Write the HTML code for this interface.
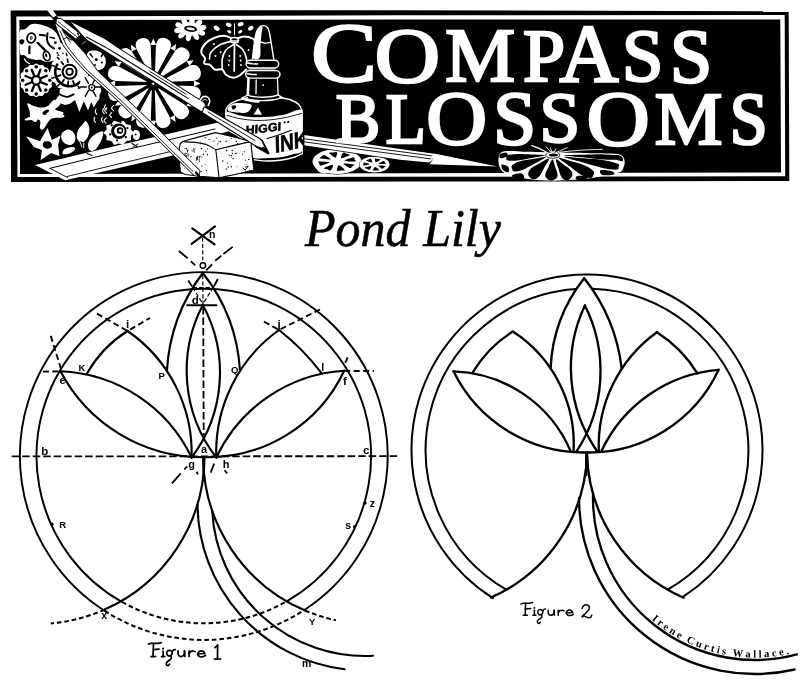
<!DOCTYPE html>
<html><head><meta charset="utf-8"><title>Compass Blossoms - Pond Lily</title>
<style>
html,body{margin:0;padding:0;background:#fff;}
body{width:800px;height:681px;overflow:hidden;font-family:"Liberation Serif",serif;}
svg{display:block;position:absolute;left:0;top:0;will-change:transform;-webkit-font-smoothing:antialiased;}
.sans{font-family:"Liberation Sans",sans-serif;}
</style></head><body>
<svg width="800" height="681" viewBox="0 0 800 681" font-family="Liberation Serif">
<rect x="0" y="0" width="800" height="681" fill="#fff"/>
<!-- BANNER -->
<g id="banner">
<path d="M10.7 10.5 L400 10.2 L788.7 11.3 L789.3 181 L400 181.6 L11 182 Z" fill="#000"/>
<path d="M16.3 16.4 L400 15.3 L784.7 14.9 L785.2 176.3 L400 176.8 L17.5 177 Z" fill="#fff"/>
<path d="M19.4 19.9 L400 19.6 L780.3 19.4 L781 172.4 L400 173.2 L20 174 Z" fill="#000"/>
<path d="M51.0 45.0 C52.2 42.8 55.8 42.5 58.0 42.5 C60.2 42.5 62.2 43.4 64.0 45.0 C65.8 46.6 67.8 49.7 68.5 52.0 C69.2 54.3 69.1 57.2 68.0 59.0 C66.9 60.8 64.2 62.1 62.0 62.5 C59.8 62.9 56.8 62.6 55.0 61.5 C53.2 60.4 51.7 58.8 51.0 56.0 C50.3 53.2 49.8 47.2 51.0 45.0 Z" fill="#fff"/>
<circle cx="59.5" cy="48.2" r="1.00" fill="#000"/>
<circle cx="63.0" cy="53.5" r="0.90" fill="#000"/>
<circle cx="57.0" cy="57.5" r="0.80" fill="#000"/>
<path d="M60.0 56.0 L62.5 59.5" fill="none" stroke="#000" stroke-width="1.00" stroke-linecap="round" stroke-linejoin="round"/>
<path d="M19.8 31.1 C20.7 28.6 23.6 30.1 25.4 29.0 C27.2 27.9 28.6 25.3 30.6 24.4 C32.5 23.5 35.0 23.7 37.2 23.9 C39.5 24.1 41.6 24.7 43.9 25.4 C46.2 26.2 49.1 27.2 51.1 28.5 C53.2 29.8 54.8 31.1 56.3 33.1 C57.7 35.2 59.0 38.4 59.9 40.8 C60.7 43.3 61.7 46.0 61.4 48.0 C61.2 50.1 59.5 51.3 58.3 53.2 C57.1 55.1 56.1 57.9 54.2 59.4 C52.3 60.8 49.2 61.8 47.0 61.9 C44.8 62.0 42.7 60.2 40.8 59.9 C39.0 59.5 37.8 60.1 35.7 59.9 C33.7 59.6 30.4 59.1 28.5 58.3 C26.6 57.6 25.8 55.9 24.4 55.2 C23.0 54.6 21.1 56.1 20.3 54.2 C19.5 52.3 19.6 47.8 19.6 43.9 C19.5 40.1 18.8 33.6 19.8 31.1 Z" fill="#fff"/>
<ellipse cx="31.3" cy="38.0" rx="5.14" ry="5.76" fill="#000" transform="rotate(15.0 31.3 38.0)"/>
<ellipse cx="31.3" cy="38.0" rx="3.29" ry="3.91" fill="#fff" transform="rotate(15.0 31.3 38.0)"/>
<ellipse cx="31.3" cy="38.0" rx="1.34" ry="1.85" fill="#000" transform="rotate(15.0 31.3 38.0)"/>
<ellipse cx="31.3" cy="38.0" rx="0.51" ry="0.82" fill="#fff" transform="rotate(15.0 31.3 38.0)"/>
<path d="M19.3 40.8 C19.5 40.0 21.5 39.3 22.3 39.3 C23.2 39.3 24.2 40.2 24.4 40.8 C24.6 41.5 24.0 42.8 23.4 43.4 C22.8 44.0 21.5 44.9 20.8 44.4 C20.1 44.0 19.0 41.7 19.3 40.8 Z" fill="#000"/>
<path d="M37.8 42.9 L40.8 46.0 L45.5 50.6" fill="none" stroke="#000" stroke-width="2.40" stroke-linecap="round" stroke-linejoin="round"/>
<path d="M29.5 46.5 L29.3 53.2" fill="none" stroke="#000" stroke-width="2.20" stroke-linecap="round" stroke-linejoin="round"/>
<path d="M39.8 34.7 L45.0 35.5" fill="none" stroke="#000" stroke-width="2.00" stroke-linecap="round" stroke-linejoin="round"/>
<path d="M47.53 33.14 C47.45 34.25 46.68 37.76 47.02 39.82 C47.36 41.88 48.39 44.02 49.59 45.48 C50.79 46.93 53.44 48.05 54.22 48.56 " fill="none" stroke="#000" stroke-width="2.00" stroke-linecap="round" stroke-linejoin="round"/>
<path d="M50.1 37.2 L54.2 38.3" fill="none" stroke="#000" stroke-width="1.60" stroke-linecap="round" stroke-linejoin="round"/>
<circle cx="55.4" cy="42.7" r="1.34" fill="#000"/>
<circle cx="59.6" cy="48.3" r="1.34" fill="#000"/>
<circle cx="57.5" cy="53.0" r="0.93" fill="#000"/>
<ellipse cx="46.7" cy="56.0" rx="4.11" ry="5.66" fill="#000" transform="rotate(-15.0 46.7 56.0)"/>
<ellipse cx="46.7" cy="56.0" rx="2.47" ry="3.91" fill="#fff" transform="rotate(-15.0 46.7 56.0)"/>
<ellipse cx="46.2" cy="55.2" rx="1.03" ry="2.06" fill="#000" transform="rotate(-15.0 46.2 55.2)"/>
<path d="M24.40 58.84 C24.74 59.36 25.60 61.16 26.45 61.93 C27.31 62.70 29.02 63.21 29.54 63.47 " fill="none" stroke="#fff" stroke-width="1.20" stroke-linecap="round" stroke-linejoin="round"/>
<path d="M51.13 60.39 C51.82 60.47 54.04 61.24 55.24 60.90 C56.44 60.56 57.81 58.76 58.33 58.33 " fill="none" stroke="#fff" stroke-width="1.20" stroke-linecap="round" stroke-linejoin="round"/>
<path d="M58.33 55.24 C58.84 55.76 60.21 58.33 61.41 58.33 C62.61 58.33 64.84 55.76 65.53 55.24 " fill="none" stroke="#000" stroke-width="2.00" stroke-linecap="round" stroke-linejoin="round"/>
<path d="M53.0 80.3 C53.0 81.4 51.8 82.3 51.6 83.4 C51.3 84.5 52.1 85.8 51.7 86.7 C51.3 87.7 49.8 88.1 49.2 89.0 C48.6 89.9 48.8 91.5 48.1 92.2 C47.4 92.9 45.8 92.7 44.9 93.3 C44.0 93.9 43.6 95.4 42.6 95.8 C41.7 96.2 40.3 95.5 39.3 95.7 C38.2 95.9 37.2 97.1 36.2 97.1 C35.2 97.1 34.2 95.9 33.2 95.7 C32.1 95.5 30.7 96.2 29.8 95.8 C28.9 95.4 28.4 93.9 27.5 93.3 C26.6 92.7 25.1 92.9 24.4 92.2 C23.7 91.5 23.8 89.9 23.2 89.0 C22.6 88.1 21.1 87.7 20.7 86.7 C20.3 85.8 21.1 84.5 20.9 83.4 C20.7 82.3 19.5 81.4 19.5 80.3 C19.5 79.3 20.7 78.4 20.9 77.3 C21.1 76.2 20.3 74.9 20.7 73.9 C21.1 73.0 22.6 72.6 23.2 71.7 C23.8 70.7 23.7 69.2 24.4 68.5 C25.1 67.8 26.6 67.9 27.5 67.3 C28.4 66.7 28.9 65.2 29.8 64.8 C30.7 64.5 32.1 65.2 33.2 65.0 C34.2 64.8 35.2 63.6 36.2 63.6 C37.2 63.6 38.2 64.8 39.3 65.0 C40.3 65.2 41.7 64.5 42.6 64.8 C43.6 65.2 44.0 66.7 44.9 67.3 C45.8 67.9 47.4 67.8 48.1 68.5 C48.8 69.2 48.6 70.7 49.2 71.7 C49.8 72.6 51.3 73.0 51.7 73.9 C52.1 74.9 51.3 76.2 51.6 77.3 C51.8 78.4 53.0 79.3 53.0 80.3 Z" fill="#fff"/>
<path d="M39.6 81.7 L46.9 84.6" fill="none" stroke="#000" stroke-width="2.30" stroke-linecap="round" stroke-linejoin="round"/>
<circle cx="49.8" cy="80.3" r="1.75" fill="#000"/>
<path d="M37.6 83.6 L40.7 90.9" fill="none" stroke="#000" stroke-width="2.30" stroke-linecap="round" stroke-linejoin="round"/>
<circle cx="45.8" cy="89.9" r="1.75" fill="#000"/>
<path d="M34.9 83.7 L31.9 91.0" fill="none" stroke="#000" stroke-width="2.30" stroke-linecap="round" stroke-linejoin="round"/>
<circle cx="36.2" cy="93.9" r="1.75" fill="#000"/>
<path d="M32.9 81.7 L25.6 84.8" fill="none" stroke="#000" stroke-width="2.30" stroke-linecap="round" stroke-linejoin="round"/>
<circle cx="26.6" cy="89.9" r="1.75" fill="#000"/>
<path d="M32.9 79.0 L25.5 76.0" fill="none" stroke="#000" stroke-width="2.30" stroke-linecap="round" stroke-linejoin="round"/>
<circle cx="22.6" cy="80.3" r="1.75" fill="#000"/>
<path d="M34.8 77.0 L31.7 69.7" fill="none" stroke="#000" stroke-width="2.30" stroke-linecap="round" stroke-linejoin="round"/>
<circle cx="26.6" cy="70.7" r="1.75" fill="#000"/>
<path d="M37.6 77.0 L40.5 69.7" fill="none" stroke="#000" stroke-width="2.30" stroke-linecap="round" stroke-linejoin="round"/>
<circle cx="36.2" cy="66.8" r="1.75" fill="#000"/>
<path d="M39.5 78.9 L46.8 75.8" fill="none" stroke="#000" stroke-width="2.30" stroke-linecap="round" stroke-linejoin="round"/>
<circle cx="45.8" cy="70.7" r="1.75" fill="#000"/>
<circle cx="36.2" cy="80.3" r="5.35" fill="#000"/>
<circle cx="36.2" cy="80.3" r="3.08" fill="#fff"/>
<path d="M27.5 104.4 C28.0 103.6 35.6 108.2 38.8 108.8 C41.9 109.3 43.8 109.0 46.2 107.5 C48.8 106.0 51.9 100.9 53.8 100.0 C55.6 99.1 57.3 100.2 57.5 101.9 C57.7 103.5 54.0 107.8 55.0 110.0 C56.0 112.2 62.5 113.8 63.8 115.0 C65.0 116.2 64.6 116.9 62.5 117.5 C60.4 118.1 54.4 116.9 51.2 118.8 C48.1 120.6 45.6 127.2 43.8 128.8 C41.9 130.3 40.7 129.6 40.0 128.1 C39.3 126.7 41.7 121.2 39.4 120.0 C37.1 118.8 28.5 120.8 26.2 120.6 C24.0 120.4 24.1 120.0 25.6 118.8 C27.2 117.5 35.3 115.5 35.6 113.1 C35.9 110.7 27.0 105.1 27.5 104.4 Z" fill="#fff"/>
<ellipse cx="45.6" cy="112.5" rx="3.25" ry="2.12" fill="#000" transform="rotate(-20.0 45.6 112.5)"/>
<polygon points="26.2,136.2 40.0,141.2 47.5,128.1 51.9,140.0 60.6,135.6 58.1,145.0 59.4,156.2 51.2,153.1 40.6,160.0 41.9,150.0 33.8,146.9" fill="#fff"/>
<path d="M43.8 141.9 C44.9 141.1 48.6 141.1 50.0 141.9 C51.4 142.6 52.3 145.1 51.9 146.2 C51.5 147.4 49.0 148.8 47.5 148.8 C46.0 148.8 43.8 147.4 43.1 146.2 C42.5 145.1 42.6 142.6 43.8 141.9 Z" fill="#000"/>
<path d="M62.5 132.5 C63.8 131.1 66.8 129.2 68.8 129.4 C70.7 129.6 73.3 131.8 74.4 133.8 C75.4 135.7 75.7 139.4 75.0 141.2 C74.3 143.1 71.9 144.8 70.0 145.0 C68.1 145.2 65.2 143.8 63.8 142.5 C62.3 141.2 61.5 139.2 61.2 137.5 C61.0 135.8 61.2 133.9 62.5 132.5 Z" fill="#fff"/>
<path d="M86.2 121.2 C87.4 122.0 89.2 126.0 89.4 128.8 C89.6 131.5 88.9 135.1 87.5 137.5 C86.1 139.9 83.0 143.1 81.2 143.1 C79.5 143.1 77.4 139.7 76.9 137.5 C76.4 135.3 77.2 132.2 78.1 130.0 C79.1 127.8 81.1 125.8 82.5 124.4 C83.9 122.9 85.1 120.5 86.2 121.2 Z" fill="#fff"/>
<path d="M102.5 131.2 C104.1 131.7 102.9 135.8 101.9 138.8 C100.8 141.7 98.2 146.8 96.2 148.8 C94.3 150.7 91.4 151.5 90.0 150.6 C88.6 149.8 87.7 146.1 88.1 143.8 C88.5 141.4 90.1 138.3 92.5 136.2 C94.9 134.2 100.9 130.8 102.5 131.2 Z" fill="#fff"/>
<path d="M65.0 148.8 C66.7 147.6 70.8 146.8 72.5 146.9 C74.2 147.0 75.6 148.2 75.0 149.4 C74.4 150.5 70.8 153.0 68.8 153.8 C66.7 154.5 63.1 154.6 62.5 153.8 C61.9 152.9 63.3 149.9 65.0 148.8 Z" fill="#fff"/>
<path d="M75.0 146.2 C75.3 144.7 78.3 141.7 80.0 141.2 C81.7 140.8 83.9 142.5 85.0 143.8 C86.1 145.0 87.2 147.4 86.9 148.8 C86.6 150.1 84.6 151.6 83.1 151.9 C81.7 152.2 79.5 151.6 78.1 150.6 C76.8 149.7 74.7 147.8 75.0 146.2 Z" fill="#000"/>
<path d="M80.0 141.9 L81.9 146.9" fill="none" stroke="#fff" stroke-width="1.00" stroke-linecap="round" stroke-linejoin="round"/>
<path d="M83.8 143.1 L83.8 147.5" fill="none" stroke="#fff" stroke-width="1.00" stroke-linecap="round" stroke-linejoin="round"/>
<polygon points="58.1,102.5 60.0,88.8 100.0,88.8 99.4,98.8 97.5,101.2 93.8,107.5 91.2,101.9 88.1,110.6 83.8,101.2 79.4,111.9 75.0,100.0 70.0,103.8 65.0,105.0" fill="#fff"/>
<path d="M96.00 109.12 C95.88 109.58 95.10 111.00 95.25 111.88 C95.40 112.75 96.60 113.96 96.88 114.38 " fill="none" stroke="#fff" stroke-width="1.10" stroke-linecap="round" stroke-linejoin="round"/>
<path d="M103.50 108.50 C103.38 108.96 102.60 110.38 102.75 111.25 C102.90 112.12 104.10 113.33 104.38 113.75 " fill="none" stroke="#fff" stroke-width="1.10" stroke-linecap="round" stroke-linejoin="round"/>
<path d="M94.75 117.25 C94.62 117.71 93.85 119.12 94.00 120.00 C94.15 120.88 95.35 122.08 95.62 122.50 " fill="none" stroke="#fff" stroke-width="1.10" stroke-linecap="round" stroke-linejoin="round"/>
<path d="M102.25 117.25 C102.12 117.71 101.35 119.12 101.50 120.00 C101.65 120.88 102.85 122.08 103.12 122.50 " fill="none" stroke="#fff" stroke-width="1.10" stroke-linecap="round" stroke-linejoin="round"/>
<path d="M105.38 104.75 C105.25 105.21 104.48 106.62 104.62 107.50 C104.77 108.38 105.98 109.58 106.25 110.00 " fill="none" stroke="#fff" stroke-width="1.10" stroke-linecap="round" stroke-linejoin="round"/>
<path d="M27.5 103.5 C28.2 102.7 31.4 105.4 33.7 106.0 C35.9 106.7 38.4 107.6 40.8 107.6 C43.2 107.6 45.8 106.9 48.0 106.0 C50.3 105.2 52.5 104.1 54.2 102.4 C55.9 100.8 57.1 96.8 58.3 96.3 C59.5 95.8 61.2 97.8 61.4 99.4 C61.6 100.9 60.4 103.8 59.4 105.5 C58.3 107.2 54.6 108.4 55.2 109.6 C55.9 110.8 63.0 111.5 63.5 112.7 C64.0 113.9 60.7 116.3 58.3 116.8 C55.9 117.4 51.5 116.7 49.1 115.8 C46.7 115.0 45.5 111.7 43.9 111.7 C42.4 111.7 41.2 114.1 39.8 115.8 C38.4 117.5 37.2 121.6 35.7 122.0 C34.2 122.3 31.6 119.8 30.6 117.9 C29.5 116.0 30.1 113.1 29.5 110.7 C29.0 108.3 26.8 104.2 27.5 103.5 Z" fill="#fff"/>
<ellipse cx="46.0" cy="111.7" rx="3.29" ry="1.65" fill="#000" transform="rotate(-25.0 46.0 111.7)"/>
<path d="M89.4 71.8 C89.4 73.2 88.0 74.5 87.7 75.9 C87.4 77.3 88.0 79.1 87.4 80.4 C86.8 81.6 85.0 82.2 84.1 83.3 C83.2 84.5 83.0 86.4 81.9 87.2 C80.9 88.1 79.0 87.8 77.7 88.5 C76.4 89.1 75.4 90.7 74.0 91.0 C72.7 91.4 71.1 90.3 69.6 90.3 C68.2 90.3 66.6 91.4 65.2 91.0 C63.9 90.7 62.9 89.1 61.6 88.5 C60.3 87.8 58.4 88.1 57.3 87.2 C56.3 86.4 56.1 84.5 55.2 83.3 C54.3 82.2 52.4 81.6 51.9 80.4 C51.3 79.1 51.9 77.3 51.6 75.9 C51.3 74.5 49.9 73.2 49.9 71.8 C49.9 70.4 51.3 69.1 51.6 67.7 C51.9 66.3 51.3 64.5 51.9 63.2 C52.4 62.0 54.3 61.4 55.2 60.3 C56.1 59.1 56.3 57.2 57.3 56.4 C58.4 55.5 60.3 55.8 61.6 55.1 C62.9 54.5 63.9 52.9 65.2 52.6 C66.6 52.2 68.2 53.3 69.6 53.3 C71.1 53.3 72.7 52.2 74.0 52.6 C75.4 52.9 76.4 54.5 77.7 55.1 C79.0 55.8 80.9 55.5 81.9 56.4 C83.0 57.2 83.2 59.1 84.1 60.3 C85.0 61.4 86.8 62.0 87.4 63.2 C88.0 64.5 87.4 66.3 87.7 67.7 C88.0 69.1 89.4 70.4 89.4 71.8 Z" fill="#fff"/>
<path d="M57.17 64.60 C56.93 65.18 56.06 66.87 55.73 68.07 C55.41 69.27 55.24 70.56 55.24 71.80 C55.24 73.04 55.41 74.33 55.73 75.53 C56.06 76.73 56.55 77.92 57.17 79.00 C57.79 80.07 58.58 81.10 59.46 81.98 C60.34 82.86 61.37 83.65 62.44 84.27 C63.52 84.89 64.71 85.38 65.91 85.70 C67.11 86.03 68.40 86.20 69.64 86.20 C70.88 86.20 72.17 86.03 73.37 85.70 C74.57 85.38 75.76 84.89 76.84 84.27 C77.91 83.65 79.32 82.36 79.82 81.98 " fill="none" stroke="#000" stroke-width="2.60" stroke-linecap="round" stroke-linejoin="round"/>
<path d="M67.9 62.2 L67.4 59.1" fill="none" stroke="#000" stroke-width="1.80" stroke-linecap="round" stroke-linejoin="round"/>
<path d="M63.4 64.3 L61.4 62.0" fill="none" stroke="#000" stroke-width="1.80" stroke-linecap="round" stroke-linejoin="round"/>
<path d="M60.2 69.3 L57.2 68.5" fill="none" stroke="#000" stroke-width="1.80" stroke-linecap="round" stroke-linejoin="round"/>
<path d="M60.5 75.1 L57.6 76.2" fill="none" stroke="#000" stroke-width="1.80" stroke-linecap="round" stroke-linejoin="round"/>
<path d="M64.0 79.8 L62.3 82.3" fill="none" stroke="#000" stroke-width="1.80" stroke-linecap="round" stroke-linejoin="round"/>
<path d="M68.3 81.5 L67.9 84.5" fill="none" stroke="#000" stroke-width="1.80" stroke-linecap="round" stroke-linejoin="round"/>
<path d="M73.0 81.0 L74.0 83.9" fill="none" stroke="#000" stroke-width="1.80" stroke-linecap="round" stroke-linejoin="round"/>
<path d="M82.2 61.2 L84.0 59.8" fill="none" stroke="#000" stroke-width="1.50" stroke-linecap="round" stroke-linejoin="round"/>
<path d="M75.3 56.3 L76.0 54.2" fill="none" stroke="#000" stroke-width="1.50" stroke-linecap="round" stroke-linejoin="round"/>
<path d="M66.8 55.6 L66.4 53.4" fill="none" stroke="#000" stroke-width="1.50" stroke-linecap="round" stroke-linejoin="round"/>
<path d="M59.1 59.2 L57.6 57.5" fill="none" stroke="#000" stroke-width="1.50" stroke-linecap="round" stroke-linejoin="round"/>
<path d="M54.2 66.2 L52.1 65.4" fill="none" stroke="#000" stroke-width="1.50" stroke-linecap="round" stroke-linejoin="round"/>
<path d="M54.2 77.4 L52.1 78.2" fill="none" stroke="#000" stroke-width="1.50" stroke-linecap="round" stroke-linejoin="round"/>
<path d="M59.1 84.4 L57.6 86.1" fill="none" stroke="#000" stroke-width="1.50" stroke-linecap="round" stroke-linejoin="round"/>
<path d="M77.9 86.0 L79.0 88.0" fill="none" stroke="#000" stroke-width="1.50" stroke-linecap="round" stroke-linejoin="round"/>
<path d="M83.9 80.0 L85.8 81.2" fill="none" stroke="#000" stroke-width="1.50" stroke-linecap="round" stroke-linejoin="round"/>
<path d="M85.8 68.9 L88.1 68.5" fill="none" stroke="#000" stroke-width="1.50" stroke-linecap="round" stroke-linejoin="round"/>
<circle cx="69.6" cy="71.8" r="8.02" fill="#000"/>
<circle cx="69.6" cy="71.8" r="5.96" fill="#fff"/>
<circle cx="69.6" cy="71.8" r="4.11" fill="#000"/>
<circle cx="69.6" cy="71.8" r="2.26" fill="#fff"/>
<path d="M54.22 84.96 C54.56 85.99 55.07 89.42 56.27 91.13 C57.47 92.84 59.53 94.30 61.41 95.24 C63.30 96.19 65.53 96.96 67.58 96.79 C69.64 96.62 72.72 94.64 73.75 94.22 " fill="none" stroke="#000" stroke-width="1.80" stroke-linecap="round" stroke-linejoin="round"/>
<path d="M87.5 53.1 C88.5 51.6 90.4 50.8 92.5 50.6 C94.6 50.4 97.9 50.7 100.0 51.9 C102.1 53.0 104.1 55.5 105.0 57.5 C105.9 59.5 106.0 61.9 105.6 63.8 C105.2 65.6 104.1 67.7 102.5 68.8 C100.9 69.8 98.3 70.3 96.2 70.0 C94.2 69.7 91.7 68.5 90.0 66.9 C88.3 65.2 86.7 62.3 86.2 60.0 C85.8 57.7 86.5 54.7 87.5 53.1 Z" fill="#fff"/>
<circle cx="96.2" cy="59.4" r="1.50" fill="#000"/>
<circle cx="101.9" cy="62.5" r="1.12" fill="#000"/>
<circle cx="95.0" cy="65.0" r="1.00" fill="#000"/>
<path d="M90.0 53.8 L92.5 56.9" fill="none" stroke="#000" stroke-width="1.50" stroke-linecap="round" stroke-linejoin="round"/>
<path d="M103.1 53.8 L101.2 56.5" fill="none" stroke="#000" stroke-width="1.50" stroke-linecap="round" stroke-linejoin="round"/>
<circle cx="90.6" cy="80.0" r="4.60" fill="#fff"/>
<circle cx="84.5" cy="83.5" r="4.60" fill="#fff"/>
<circle cx="84.5" cy="90.5" r="4.60" fill="#fff"/>
<circle cx="90.6" cy="94.0" r="4.60" fill="#fff"/>
<circle cx="96.7" cy="90.5" r="4.60" fill="#fff"/>
<circle cx="96.7" cy="83.5" r="4.60" fill="#fff"/>
<circle cx="90.6" cy="87.0" r="6.00" fill="#fff"/>
<path d="M92.7 83.4 L96.0 77.6" fill="none" stroke="#000" stroke-width="1.30" stroke-linecap="round" stroke-linejoin="round"/>
<path d="M88.5 83.4 L85.2 77.6" fill="none" stroke="#000" stroke-width="1.30" stroke-linecap="round" stroke-linejoin="round"/>
<path d="M86.4 87.0 L79.8 87.0" fill="none" stroke="#000" stroke-width="1.30" stroke-linecap="round" stroke-linejoin="round"/>
<path d="M88.5 90.6 L85.2 96.4" fill="none" stroke="#000" stroke-width="1.30" stroke-linecap="round" stroke-linejoin="round"/>
<path d="M92.7 90.6 L96.0 96.4" fill="none" stroke="#000" stroke-width="1.30" stroke-linecap="round" stroke-linejoin="round"/>
<path d="M94.8 87.0 L101.4 87.0" fill="none" stroke="#000" stroke-width="1.30" stroke-linecap="round" stroke-linejoin="round"/>
<circle cx="91.8" cy="87.6" r="3.60" fill="#000"/>
<circle cx="91.8" cy="87.6" r="2.30" fill="#fff"/>
<circle cx="91.8" cy="87.6" r="1.00" fill="#000"/>
<path d="M133.8 132.8 C133.8 133.8 131.4 134.8 130.9 136.0 C130.4 137.3 131.7 139.2 130.9 140.1 C130.1 141.0 127.5 140.6 126.2 141.3 C125.0 142.1 124.6 144.3 123.4 144.7 C122.2 145.0 120.3 143.4 118.8 143.4 C117.2 143.4 115.3 145.0 114.1 144.7 C112.9 144.3 112.5 142.1 111.3 141.3 C110.0 140.6 107.4 141.0 106.6 140.1 C105.8 139.2 107.1 137.3 106.6 136.0 C106.1 134.8 103.7 133.8 103.7 132.8 C103.7 131.7 106.1 130.7 106.6 129.5 C107.1 128.2 105.8 126.3 106.6 125.4 C107.4 124.5 110.0 124.9 111.3 124.2 C112.5 123.4 112.9 121.2 114.1 120.8 C115.3 120.5 117.2 122.1 118.8 122.1 C120.3 122.1 122.2 120.5 123.4 120.8 C124.6 121.2 125.0 123.4 126.2 124.2 C127.5 124.9 130.1 124.5 130.9 125.4 C131.7 126.3 130.4 128.2 130.9 129.5 C131.4 130.7 133.8 131.7 133.8 132.8 Z" fill="#fff"/>
<circle cx="118.8" cy="131.2" r="7.75" fill="#000"/>
<circle cx="119.4" cy="131.0" r="5.25" fill="#fff"/>
<circle cx="120.0" cy="130.6" r="3.25" fill="#000"/>
<circle cx="120.4" cy="130.4" r="1.50" fill="#fff"/>
<circle cx="127.4" cy="128.1" r="1.12" fill="#000"/>
<circle cx="120.4" cy="122.1" r="1.12" fill="#000"/>
<circle cx="111.7" cy="125.3" r="1.12" fill="#000"/>
<circle cx="110.1" cy="134.4" r="1.12" fill="#000"/>
<circle cx="117.1" cy="140.4" r="1.12" fill="#000"/>
<circle cx="125.8" cy="137.2" r="1.12" fill="#000"/>
<path d="M133.8 130.6 C134.7 129.6 137.7 130.3 138.8 131.2 C139.8 132.2 140.3 134.8 140.0 136.2 C139.7 137.7 138.0 139.8 136.9 140.0 C135.7 140.2 133.6 139.1 133.1 137.5 C132.6 135.9 132.8 131.7 133.8 130.6 Z" fill="#fff"/>
<circle cx="135.6" cy="134.4" r="1.00" fill="#000"/>
<path d="M106.88 107.88 C106.50 108.33 104.67 109.75 104.62 110.62 C104.58 111.50 106.29 112.71 106.62 113.12 " fill="none" stroke="#fff" stroke-width="1.10" stroke-linecap="round" stroke-linejoin="round"/>
<path d="M111.88 112.25 C111.50 112.71 109.67 114.12 109.62 115.00 C109.58 115.88 111.29 117.08 111.62 117.50 " fill="none" stroke="#fff" stroke-width="1.10" stroke-linecap="round" stroke-linejoin="round"/>
<path d="M106.25 117.88 C105.88 118.33 104.04 119.75 104.00 120.62 C103.96 121.50 105.67 122.71 106.00 123.12 " fill="none" stroke="#fff" stroke-width="1.10" stroke-linecap="round" stroke-linejoin="round"/>
<path d="M113.75 105.38 C113.38 105.83 111.54 107.25 111.50 108.12 C111.46 109.00 113.17 110.21 113.50 110.62 " fill="none" stroke="#fff" stroke-width="1.10" stroke-linecap="round" stroke-linejoin="round"/>
<polygon points="200.5,83.5 194.0,86.4 194.0,80.6" fill="#fff"/>
<polygon points="193.7,60.2 189.5,66.0 186.6,60.9" fill="#fff"/>
<polygon points="176.1,44.1 175.3,51.2 170.3,48.3" fill="#fff"/>
<polygon points="153.3,38.5 156.2,45.0 150.4,45.0" fill="#fff"/>
<polygon points="130.8,44.6 136.6,48.8 131.6,51.7" fill="#fff"/>
<polygon points="114.5,61.1 121.6,61.9 118.7,66.9" fill="#fff"/>
<polygon points="108.6,83.5 115.1,80.6 115.1,86.4" fill="#fff"/>
<polygon points="114.8,105.7 119.0,100.0 121.9,105.0" fill="#fff"/>
<polygon points="131.3,121.6 132.1,114.5 137.1,117.4" fill="#fff"/>
<polygon points="153.3,127.2 150.4,120.7 156.2,120.7" fill="#fff"/>
<polygon points="175.6,122.0 169.8,117.9 174.8,115.0" fill="#fff"/>
<polygon points="193.4,106.6 186.3,105.9 189.2,100.9" fill="#fff"/>
<path d="M160.0 81.4 L188.2 66.4 C194.1 63.5 198.9 65.0 200.5 70.9 C202.0 76.7 198.6 80.4 192.0 80.9 L160.1 82.0 Z" fill="#fff"/>
<path d="M158.0 78.3 L174.5 51.9 C178.1 46.6 183.0 45.5 187.1 49.7 C191.3 53.8 190.2 58.7 184.9 62.3 L158.5 78.8 Z" fill="#fff"/>
<path d="M154.8 76.7 L155.9 46.3 C156.4 40.0 159.9 36.7 165.4 38.2 C171.0 39.6 172.4 44.3 169.7 50.0 L155.4 76.8 Z" fill="#fff"/>
<path d="M151.2 76.8 L137.0 50.1 C134.3 44.4 135.7 39.8 141.2 38.3 C146.7 36.8 150.3 40.1 150.7 46.4 L151.8 76.7 Z" fill="#fff"/>
<path d="M148.1 78.8 L122.5 62.8 C117.4 59.2 116.3 54.5 120.3 50.5 C124.3 46.5 129.0 47.6 132.6 52.7 L148.6 78.3 Z" fill="#fff"/>
<path d="M146.5 82.0 L116.4 80.9 C110.2 80.5 106.9 76.9 108.4 71.5 C109.8 66.0 114.4 64.6 120.1 67.3 L146.6 81.4 Z" fill="#fff"/>
<path d="M146.6 85.6 L120.1 99.7 C114.5 102.4 109.9 101.0 108.5 95.5 C107.0 90.1 110.3 86.5 116.5 86.1 L146.5 85.0 Z" fill="#fff"/>
<path d="M148.6 88.7 L132.9 113.8 C129.4 118.9 124.7 120.0 120.8 116.0 C116.8 112.1 117.9 107.4 123.0 103.9 L148.1 88.2 Z" fill="#fff"/>
<path d="M151.8 90.3 L150.8 119.6 C150.3 125.7 146.8 128.9 141.5 127.5 C136.2 126.1 134.8 121.6 137.4 116.0 L151.2 90.2 Z" fill="#fff"/>
<path d="M155.4 90.2 L169.2 116.1 C171.9 121.7 170.5 126.2 165.1 127.7 C159.8 129.1 156.3 125.9 155.8 119.7 L154.8 90.3 Z" fill="#fff"/>
<path d="M158.5 88.2 L184.4 104.4 C189.6 108.0 190.7 112.8 186.6 116.8 C182.6 120.9 177.8 119.8 174.2 114.6 L158.0 88.7 Z" fill="#fff"/>
<path d="M160.1 85.0 L192.0 86.1 C198.5 86.6 201.9 90.3 200.4 96.1 C198.8 101.9 194.0 103.4 188.1 100.6 L160.0 85.6 Z" fill="#fff"/>
<ellipse cx="201.9" cy="27.7" rx="4.50" ry="2.75" fill="#fff" transform="rotate(-10.0 201.9 27.7)"/>
<ellipse cx="198.5" cy="23.4" rx="4.50" ry="2.75" fill="#fff" transform="rotate(-46.0 198.5 23.4)"/>
<ellipse cx="191.9" cy="21.3" rx="4.50" ry="2.75" fill="#fff" transform="rotate(-82.0 191.9 21.3)"/>
<ellipse cx="184.7" cy="22.2" rx="4.50" ry="2.75" fill="#fff" transform="rotate(-118.0 184.7 22.2)"/>
<ellipse cx="179.6" cy="25.6" rx="4.50" ry="2.75" fill="#fff" transform="rotate(-154.0 179.6 25.6)"/>
<ellipse cx="178.6" cy="30.3" rx="4.50" ry="2.75" fill="#fff" transform="rotate(-190.0 178.6 30.3)"/>
<ellipse cx="182.0" cy="34.6" rx="4.50" ry="2.75" fill="#fff" transform="rotate(-226.0 182.0 34.6)"/>
<ellipse cx="188.6" cy="36.7" rx="4.50" ry="2.75" fill="#fff" transform="rotate(-262.0 188.6 36.7)"/>
<ellipse cx="195.8" cy="35.8" rx="4.50" ry="2.75" fill="#fff" transform="rotate(-298.0 195.8 35.8)"/>
<ellipse cx="200.9" cy="32.4" rx="4.50" ry="2.75" fill="#fff" transform="rotate(-334.0 200.9 32.4)"/>
<ellipse cx="190.2" cy="29.0" rx="10.62" ry="6.88" fill="#fff"/>
<ellipse cx="190.6" cy="28.8" rx="6.50" ry="3.00" fill="#000" transform="rotate(8.0 190.6 28.8)"/>
<ellipse cx="190.6" cy="28.8" rx="4.25" ry="1.25" fill="#fff" transform="rotate(8.0 190.6 28.8)"/>
<ellipse cx="216.7" cy="28.2" rx="3.30" ry="2.10" fill="#fff" transform="rotate(35.0 216.7 28.2)"/>
<ellipse cx="228.7" cy="24.8" rx="3.00" ry="1.95" fill="#fff" transform="rotate(20.0 228.7 24.8)"/>
<ellipse cx="240.7" cy="24.2" rx="3.00" ry="1.95" fill="#fff" transform="rotate(-20.0 240.7 24.2)"/>
<ellipse cx="250.7" cy="28.2" rx="3.00" ry="1.95" fill="#fff" transform="rotate(-30.0 250.7 28.2)"/>
<ellipse cx="229.3" cy="31.7" rx="2.25" ry="1.50" fill="#fff" transform="rotate(30.0 229.3 31.7)"/>
<ellipse cx="240.2" cy="31.7" rx="2.25" ry="1.50" fill="#fff" transform="rotate(-30.0 240.2 31.7)"/>
<path d="M234.5 23.7 L234.5 35.0" fill="none" stroke="#fff" stroke-width="1.00" stroke-linecap="round" stroke-linejoin="round"/>
<path d="M232.75 38.75 C231.37 38.25 227.62 35.87 224.50 35.75 C221.37 35.62 217.25 36.62 214.00 38.00 C210.75 39.37 207.12 41.62 205.00 44.00 C202.87 46.37 201.25 49.87 201.25 52.25 C201.25 54.62 204.50 56.37 205.00 58.25 C205.50 60.12 203.37 62.37 204.25 63.50 C205.12 64.62 208.50 64.00 210.25 65.00 C212.00 66.00 212.75 68.75 214.75 69.50 C216.75 70.25 220.37 68.62 222.25 69.50 C224.12 70.37 224.12 73.37 226.00 74.75 C227.87 76.12 231.25 77.62 233.50 77.75 C235.75 77.87 237.37 76.87 239.50 75.50 C241.62 74.12 245.12 70.50 246.25 69.50 " fill="none" stroke="#fff" stroke-width="2.00" stroke-linecap="round" stroke-linejoin="round"/>
<path d="M236.50 38.75 C237.75 38.37 241.25 36.50 244.00 36.50 C246.75 36.50 251.00 37.50 253.00 38.75 C255.00 40.00 255.50 43.12 256.00 44.00 " fill="none" stroke="#fff" stroke-width="2.00" stroke-linecap="round" stroke-linejoin="round"/>
<path d="M232.75 41.00 C230.62 41.62 223.62 42.87 220.00 44.75 C216.37 46.62 212.75 49.87 211.00 52.25 C209.25 54.62 209.75 57.87 209.50 59.00 " fill="none" stroke="#fff" stroke-width="1.60" stroke-linecap="round" stroke-linejoin="round"/>
<path d="M233.50 44.75 C232.25 45.62 227.87 47.62 226.00 50.00 C224.12 52.37 222.87 55.87 222.25 59.00 C221.62 62.12 222.25 67.12 222.25 68.75 " fill="none" stroke="#fff" stroke-width="1.60" stroke-linecap="round" stroke-linejoin="round"/>
<path d="M236.50 44.75 C237.50 45.50 240.87 47.12 242.50 49.25 C244.12 51.37 245.55 54.87 246.25 57.50 C246.95 60.12 246.62 63.75 246.70 65.00 " fill="none" stroke="#fff" stroke-width="1.60" stroke-linecap="round" stroke-linejoin="round"/>
<path d="M234.5 44.0 L234.2 71.0" fill="none" stroke="#fff" stroke-width="1.80" stroke-linecap="round" stroke-linejoin="round"/>
<ellipse cx="234.5" cy="40.2" rx="3.90" ry="2.70" fill="#000" stroke="#fff" stroke-width="1.60"/>
<path d="M231.2 41.0 L238.0 41.0" fill="none" stroke="#fff" stroke-width="1.60" stroke-linecap="round" stroke-linejoin="round"/>
<circle cx="214.0" cy="44.0" r="0.97" fill="#fff"/>
<circle cx="220.7" cy="52.2" r="0.97" fill="#fff"/>
<circle cx="215.5" cy="56.0" r="0.97" fill="#fff"/>
<circle cx="229.3" cy="56.0" r="0.97" fill="#fff"/>
<circle cx="229.3" cy="60.5" r="0.97" fill="#fff"/>
<circle cx="228.7" cy="65.0" r="0.97" fill="#fff"/>
<circle cx="240.2" cy="56.0" r="0.97" fill="#fff"/>
<circle cx="240.7" cy="60.5" r="0.97" fill="#fff"/>
<circle cx="241.0" cy="65.0" r="0.97" fill="#fff"/>
<circle cx="248.5" cy="50.0" r="0.97" fill="#fff"/>
<path d="M252.50 59.00 C252.75 56.67 253.33 49.52 254.00 45.00 C254.67 40.48 255.50 34.90 256.50 31.88 C257.50 28.85 258.79 27.92 260.00 26.88 C261.21 25.83 262.50 25.52 263.75 25.62 C265.00 25.73 266.56 26.35 267.50 27.50 C268.44 28.65 268.71 29.58 269.38 32.50 C270.04 35.42 270.77 40.58 271.50 45.00 C272.23 49.42 273.38 56.67 273.75 59.00 " fill="none" stroke="#fff" stroke-width="1.45" stroke-linecap="round" stroke-linejoin="round"/>
<path d="M256.5 31.9 C257.4 29.0 258.4 28.5 259.4 27.8 C260.4 27.0 262.1 26.2 262.5 27.2 C262.9 28.2 261.8 30.8 261.5 33.8 C261.2 36.7 260.8 41.0 260.5 45.0 C260.2 49.0 261.0 55.3 259.8 57.5 C258.5 59.7 254.0 60.2 253.1 58.1 C252.2 56.0 253.7 49.4 254.2 45.0 C254.8 40.6 255.6 34.8 256.5 31.9 Z" fill="#fff"/>
<path d="M259.00 41.50 C260.00 41.77 263.12 42.96 265.00 43.12 C266.88 43.29 269.38 42.60 270.25 42.50 " fill="none" stroke="#fff" stroke-width="1.30" stroke-linecap="round" stroke-linejoin="round"/>
<rect x="246.2" y="60.2" width="32.5" height="7.8" rx="4" ry="4" fill="#000" stroke="#fff" stroke-width="1.4"/>
<path d="M247.8 63.1 L252.5 63.8 L257.5 64.0" fill="none" stroke="#fff" stroke-width="1.60" stroke-linecap="round" stroke-linejoin="round"/>
<rect x="245.6" y="70.6" width="34.4" height="7.5" rx="4" ry="4" fill="#000" stroke="#fff" stroke-width="1.4"/>
<path d="M247.2 73.8 L252.5 74.5 L256.2 74.5" fill="none" stroke="#fff" stroke-width="1.60" stroke-linecap="round" stroke-linejoin="round"/>
<path d="M248.8 69.0 L275.0 69.0" fill="none" stroke="#fff" stroke-width="0.80" stroke-linecap="round" stroke-linejoin="round"/>
<path d="M248.5 78.5 L247.8 95.0" fill="none" stroke="#fff" stroke-width="2.60" stroke-linecap="round" stroke-linejoin="round"/>
<path d="M277.5 78.5 L278.1 95.0" fill="none" stroke="#fff" stroke-width="1.30" stroke-linecap="round" stroke-linejoin="round"/>
<path d="M256.2 80.0 L256.0 93.8" fill="none" stroke="#fff" stroke-width="1.30" stroke-linecap="round" stroke-linejoin="round"/>
<circle cx="263.2" cy="85.1" r="0.88" fill="#fff"/>
<path d="M247.75 95.00 C248.54 95.25 250.04 96.12 252.50 96.50 C254.96 96.88 259.17 97.25 262.50 97.25 C265.83 97.25 269.90 96.92 272.50 96.50 C275.10 96.08 277.19 95.04 278.12 94.75 " fill="none" stroke="#fff" stroke-width="1.30" stroke-linecap="round" stroke-linejoin="round"/>
<path d="M241.88 98.12 C243.65 98.44 249.06 99.58 252.50 100.00 C255.94 100.42 258.96 100.67 262.50 100.62 C266.04 100.58 270.42 100.23 273.75 99.75 C277.08 99.27 281.04 98.08 282.50 97.75 " fill="none" stroke="#fff" stroke-width="1.30" stroke-linecap="round" stroke-linejoin="round"/>
<path d="M247.8 95.0 L241.9 98.1" fill="none" stroke="#fff" stroke-width="1.30" stroke-linecap="round" stroke-linejoin="round"/>
<path d="M278.1 94.8 L282.5 97.8" fill="none" stroke="#fff" stroke-width="1.30" stroke-linecap="round" stroke-linejoin="round"/>
<path d="M243.12 99.00 C244.69 99.38 249.90 100.77 252.50 101.25 C255.10 101.73 257.71 101.77 258.75 101.88 " fill="none" stroke="#fff" stroke-width="2.00" stroke-linecap="round" stroke-linejoin="round"/>
<path d="M247.50 97.80 C245.92 98.22 241.00 99.18 238.00 100.30 C235.00 101.42 231.50 102.97 229.50 104.50 C227.50 106.03 226.50 108.08 226.00 109.50 C225.50 110.92 226.42 112.42 226.50 113.00 " fill="none" stroke="#fff" stroke-width="1.50" stroke-linecap="round" stroke-linejoin="round"/>
<path d="M279.50 97.20 C281.42 97.67 287.75 98.73 291.00 100.00 C294.25 101.27 297.20 103.05 299.00 104.80 C300.80 106.55 301.33 109.55 301.80 110.50 " fill="none" stroke="#fff" stroke-width="1.40" stroke-linecap="round" stroke-linejoin="round"/>
<path d="M227.6 108.5 C227.9 107.3 229.6 105.3 231.5 104.4 C233.4 103.5 235.8 103.0 239.0 103.0 C242.2 103.0 248.5 103.4 250.5 104.2 C252.5 105.0 251.7 106.6 251.0 108.0 C250.3 109.4 248.8 111.9 246.5 112.6 C244.2 113.3 239.8 112.6 237.0 112.4 C234.2 112.2 231.1 112.2 229.5 111.6 C227.9 110.9 227.3 109.7 227.6 108.5 Z" fill="#fff"/>
<path d="M231.5 106.2 C231.8 105.5 234.2 105.0 235.0 105.2 C235.8 105.4 236.5 106.9 236.2 107.6 C235.9 108.3 233.8 109.8 233.0 109.6 C232.2 109.4 231.2 106.9 231.5 106.2 Z" fill="#000"/>
<polygon points="253.6,114.6 258.0,107.6 262.0,114.8" fill="#fff"/>
<path d="M226.0 111.8 C228.3 110.9 235.2 114.5 240.0 115.4 C244.8 116.3 250.0 117.0 255.0 117.2 C260.0 117.4 265.0 117.2 270.0 116.8 C275.0 116.3 279.7 115.6 285.0 114.5 C290.3 113.4 299.0 107.6 301.9 110.2 C304.8 112.8 302.5 123.3 302.6 130.0 C302.7 136.7 304.1 146.3 302.5 150.3 C300.9 154.3 296.4 153.1 293.0 154.2 C289.6 155.3 286.1 156.3 281.9 156.9 C277.7 157.5 272.7 157.8 268.0 158.0 C263.3 158.2 256.5 159.1 253.7 157.8 C250.9 156.5 253.3 153.3 251.0 150.0 C248.7 146.7 243.7 141.2 240.0 138.0 C236.3 134.8 231.3 133.8 229.0 131.0 C226.7 128.2 226.7 124.2 226.2 121.0 C225.7 117.8 223.7 112.7 226.0 111.8 Z" fill="#fff"/>
<path d="M227.00 115.30 C229.17 115.87 235.33 117.85 240.00 118.70 C244.67 119.55 250.00 120.20 255.00 120.40 C260.00 120.60 265.00 120.37 270.00 119.90 C275.00 119.43 279.70 118.68 285.00 117.60 C290.30 116.52 299.00 114.10 301.80 113.40 " fill="none" stroke="#000" stroke-width="0.90" stroke-linecap="round" stroke-linejoin="round"/>
<path d="M254.50 159.80 C256.75 160.00 263.42 160.97 268.00 161.00 C272.58 161.03 277.50 160.67 282.00 160.00 C286.50 159.33 291.62 158.08 295.00 157.00 C298.38 155.92 301.08 154.08 302.30 153.50 " fill="none" stroke="#fff" stroke-width="1.40" stroke-linecap="round" stroke-linejoin="round"/>
<path d="M302.4 110.0 L302.6 154.0" fill="none" stroke="#fff" stroke-width="1.00" stroke-linecap="round" stroke-linejoin="round"/>
<g transform="translate(245.6 134.2) rotate(-6) skewX(-8)" fill="#000" font-family="Liberation Sans" font-weight="bold" font-size="11.8"><text x="0" y="0" textLength="35.5" lengthAdjust="spacingAndGlyphs" stroke="#000" stroke-width="0.5">HIGGI</text><circle cx="39" cy="-7.6" r="1.1"/><circle cx="42.6" cy="-7.8" r="1.1"/></g>
<path d="M266.9 138.8 L280.0 134.6 L291.3 130.3" fill="none" stroke="#000" stroke-width="1.10" stroke-linecap="round" stroke-linejoin="round"/>
<g transform="translate(275.0 153.0) rotate(-11.5) skewX(-10)" fill="#000" font-family="Liberation Sans" font-weight="bold" font-size="23"><text x="0" y="0" textLength="33.5" lengthAdjust="spacingAndGlyphs" stroke="#000" stroke-width="0.6">INK</text></g>
<polygon points="302.9,105.0 312.0,105.0 312.0,160.0 302.9,160.0" fill="#000"/>
<polygon points="35.0,165.0 110.0,147.3 200.0,126.6 232.0,119.5 236.0,129.0 200.0,140.0 175.0,155.0 110.0,170.0 65.0,180.3" fill="#fff"/>
<path d="M50.0 168.3 L110.0 153.5 L170.0 139.5 L215.0 129.0" fill="none" stroke="#000" stroke-width="1.00" stroke-linecap="round" stroke-linejoin="round"/>
<path d="M67.0 176.5 L110.0 166.0 L175.0 150.5" fill="none" stroke="#000" stroke-width="0.90" stroke-linecap="round" stroke-linejoin="round"/>
<path d="M50.0 168.3 L67.5 177.5" fill="none" stroke="#000" stroke-width="0.90" stroke-linecap="round" stroke-linejoin="round"/>
<path d="M132.0 143.5 L137.0 146.5" fill="none" stroke="#000" stroke-width="1.20" stroke-linecap="round" stroke-linejoin="round"/>
<path d="M133.0 147.0 L138.0 144.0" fill="none" stroke="#000" stroke-width="1.00" stroke-linecap="round" stroke-linejoin="round"/>
<path d="M87.0 153.5 L92.0 155.5" fill="none" stroke="#000" stroke-width="1.20" stroke-linecap="round" stroke-linejoin="round"/>
<polygon points="179.3,148.0 180.3,143.5 183.2,141.2 200.0,136.6 215.5,132.6 233.0,136.8 250.8,141.5 252.3,156.0 253.8,170.0 236.0,174.2 219.0,177.9 200.0,176.2 185.3,174.5 180.4,172.0 179.3,160.0" fill="#fff" stroke="#000" stroke-width="1.10" stroke-linejoin="round"/>
<path d="M183.00 141.80 C185.33 141.93 192.83 142.03 197.00 142.60 C201.17 143.17 204.87 144.00 208.00 145.20 C211.13 146.40 214.50 149.03 215.80 149.80 " fill="none" stroke="#000" stroke-width="1.10" stroke-linecap="round" stroke-linejoin="round"/>
<path d="M215.8 149.8 L233.0 145.6 L250.6 141.6" fill="none" stroke="#000" stroke-width="1.10" stroke-linecap="round" stroke-linejoin="round"/>
<path d="M215.80 149.80 C216.10 152.33 217.07 160.37 217.60 165.00 C218.13 169.63 218.77 175.50 219.00 177.60 " fill="none" stroke="#000" stroke-width="1.10" stroke-linecap="round" stroke-linejoin="round"/>
<circle cx="192.1" cy="150.8" r="0.64" fill="#000"/>
<circle cx="185.0" cy="160.4" r="0.51" fill="#000"/>
<circle cx="184.6" cy="159.7" r="0.37" fill="#000"/>
<circle cx="195.1" cy="148.7" r="0.39" fill="#000"/>
<circle cx="194.9" cy="167.7" r="0.41" fill="#000"/>
<circle cx="189.3" cy="162.7" r="0.78" fill="#000"/>
<circle cx="199.2" cy="156.9" r="0.79" fill="#000"/>
<circle cx="184.3" cy="168.5" r="0.48" fill="#000"/>
<circle cx="187.0" cy="149.9" r="0.49" fill="#000"/>
<circle cx="205.9" cy="151.5" r="0.61" fill="#000"/>
<circle cx="200.9" cy="156.3" r="0.60" fill="#000"/>
<circle cx="184.8" cy="148.5" r="0.44" fill="#000"/>
<circle cx="202.1" cy="157.7" r="0.49" fill="#000"/>
<circle cx="199.4" cy="158.3" r="0.48" fill="#000"/>
<circle cx="205.2" cy="164.5" r="0.46" fill="#000"/>
<circle cx="199.1" cy="160.1" r="0.74" fill="#000"/>
<circle cx="203.4" cy="154.2" r="0.79" fill="#000"/>
<circle cx="186.3" cy="157.5" r="0.69" fill="#000"/>
<circle cx="187.3" cy="159.2" r="0.37" fill="#000"/>
<circle cx="201.7" cy="166.1" r="0.61" fill="#000"/>
<circle cx="207.5" cy="154.8" r="0.66" fill="#000"/>
<circle cx="199.6" cy="161.5" r="0.56" fill="#000"/>
<circle cx="206.5" cy="170.6" r="0.56" fill="#000"/>
<circle cx="201.6" cy="148.5" r="0.67" fill="#000"/>
<circle cx="201.1" cy="171.8" r="0.72" fill="#000"/>
<circle cx="191.0" cy="156.6" r="0.65" fill="#000"/>
<circle cx="183.6" cy="158.5" r="0.43" fill="#000"/>
<circle cx="186.3" cy="148.5" r="0.70" fill="#000"/>
<circle cx="186.6" cy="153.2" r="0.53" fill="#000"/>
<circle cx="207.4" cy="149.0" r="0.55" fill="#000"/>
<circle cx="198.4" cy="169.1" r="0.72" fill="#000"/>
<circle cx="207.2" cy="154.0" r="0.54" fill="#000"/>
<circle cx="193.0" cy="169.1" r="0.78" fill="#000"/>
<circle cx="187.2" cy="151.4" r="0.45" fill="#000"/>
<path d="M188.0 153.8 L188.1 156.3" fill="none" stroke="#000" stroke-width="0.90" stroke-linecap="round" stroke-linejoin="round"/>
<path d="M185.1 153.0 L184.9 156.2" fill="none" stroke="#000" stroke-width="0.90" stroke-linecap="round" stroke-linejoin="round"/>
<path d="M197.4 156.3 L197.4 159.5" fill="none" stroke="#000" stroke-width="0.90" stroke-linecap="round" stroke-linejoin="round"/>
<path d="M193.8 148.6 L194.2 152.2" fill="none" stroke="#000" stroke-width="0.90" stroke-linecap="round" stroke-linejoin="round"/>
<path d="M196.4 157.6 L196.3 160.4" fill="none" stroke="#000" stroke-width="0.90" stroke-linecap="round" stroke-linejoin="round"/>
<path d="M186.3 155.6 L185.9 157.7" fill="none" stroke="#000" stroke-width="0.90" stroke-linecap="round" stroke-linejoin="round"/>
<path d="M187.7 149.9 L187.6 152.1" fill="none" stroke="#000" stroke-width="0.90" stroke-linecap="round" stroke-linejoin="round"/>
<circle cx="222.0" cy="153.2" r="0.39" fill="#000"/>
<circle cx="232.2" cy="150.5" r="0.70" fill="#000"/>
<circle cx="239.2" cy="153.1" r="0.45" fill="#000"/>
<circle cx="231.7" cy="157.6" r="0.40" fill="#000"/>
<circle cx="245.8" cy="170.9" r="0.54" fill="#000"/>
<circle cx="235.5" cy="151.8" r="0.39" fill="#000"/>
<circle cx="231.6" cy="155.6" r="0.68" fill="#000"/>
<circle cx="226.5" cy="150.5" r="0.73" fill="#000"/>
<circle cx="236.8" cy="153.1" r="0.57" fill="#000"/>
<circle cx="222.8" cy="161.1" r="0.74" fill="#000"/>
<circle cx="246.2" cy="164.6" r="0.45" fill="#000"/>
<circle cx="232.3" cy="153.5" r="0.66" fill="#000"/>
<circle cx="236.9" cy="166.4" r="0.48" fill="#000"/>
<circle cx="228.2" cy="167.0" r="0.74" fill="#000"/>
<circle cx="245.9" cy="166.9" r="0.68" fill="#000"/>
<circle cx="242.7" cy="154.8" r="0.56" fill="#000"/>
<circle cx="232.0" cy="150.6" r="0.36" fill="#000"/>
<circle cx="229.8" cy="155.4" r="0.63" fill="#000"/>
<circle cx="248.8" cy="159.4" r="0.72" fill="#000"/>
<circle cx="249.7" cy="170.1" r="0.50" fill="#000"/>
<circle cx="228.2" cy="154.8" r="0.43" fill="#000"/>
<circle cx="227.7" cy="163.1" r="0.71" fill="#000"/>
<circle cx="245.5" cy="160.1" r="0.61" fill="#000"/>
<circle cx="244.4" cy="151.8" r="0.61" fill="#000"/>
<circle cx="247.5" cy="166.4" r="0.65" fill="#000"/>
<circle cx="235.4" cy="153.7" r="0.67" fill="#000"/>
<circle cx="231.3" cy="166.8" r="0.74" fill="#000"/>
<circle cx="233.1" cy="158.4" r="0.73" fill="#000"/>
<circle cx="242.3" cy="153.6" r="0.40" fill="#000"/>
<circle cx="226.2" cy="169.0" r="0.67" fill="#000"/>
<circle cx="205.8" cy="144.2" r="0.64" fill="#000"/>
<circle cx="226.3" cy="140.3" r="0.49" fill="#000"/>
<circle cx="205.2" cy="137.7" r="0.64" fill="#000"/>
<circle cx="226.0" cy="141.7" r="0.63" fill="#000"/>
<circle cx="217.4" cy="144.0" r="0.59" fill="#000"/>
<circle cx="208.4" cy="139.4" r="0.40" fill="#000"/>
<circle cx="209.6" cy="142.1" r="0.39" fill="#000"/>
<circle cx="216.8" cy="138.1" r="0.62" fill="#000"/>
<circle cx="214.2" cy="140.8" r="0.50" fill="#000"/>
<circle cx="236.2" cy="141.3" r="0.62" fill="#000"/>
<circle cx="220.1" cy="141.4" r="0.48" fill="#000"/>
<circle cx="200.7" cy="141.3" r="0.36" fill="#000"/>
<circle cx="200.2" cy="144.2" r="0.36" fill="#000"/>
<circle cx="218.9" cy="142.9" r="0.49" fill="#000"/>
<circle cx="213.0" cy="141.3" r="0.49" fill="#000"/>
<circle cx="231.4" cy="138.6" r="0.50" fill="#000"/>
<circle cx="209.9" cy="139.6" r="0.57" fill="#000"/>
<circle cx="220.3" cy="141.7" r="0.57" fill="#000"/>
<circle cx="236.5" cy="141.5" r="0.51" fill="#000"/>
<circle cx="220.2" cy="141.3" r="0.54" fill="#000"/>
<circle cx="218.1" cy="141.3" r="0.47" fill="#000"/>
<circle cx="237.7" cy="143.6" r="0.61" fill="#000"/>
<path d="M243.0 168.0 L245.0 170.0 L248.0 166.5" fill="none" stroke="#000" stroke-width="1.00" stroke-linecap="round" stroke-linejoin="round"/>
<polygon points="49.5,15.2 55.5,15.2 61.5,20.5 54.0,20.5" fill="#000"/>
<polygon points="46.6,9.5 52.3,9.5 56.6,15.6 53.0,17.6" fill="#fff"/>
<polygon points="60.0,24.0 64.0,33.0 74.0,41.7 84.5,53.2 96.5,70.0 127.2,100.0 153.4,125.0 199.6,170.8 198.5,176.0 194.3,175.2 145.0,126.8 117.7,100.0 92.5,77.3 84.5,70.0 74.5,59.3 63.5,45.2 58.0,31.0 55.5,24.0" fill="#000" stroke="#000" stroke-width="1.60" stroke-linejoin="round"/>
<polygon points="60.0,24.0 64.0,33.0 74.0,41.7 84.5,53.2 96.5,70.0 127.2,100.0 153.4,125.0 199.6,170.8 198.5,176.0 194.3,175.2 145.0,126.8 117.7,100.0 92.5,77.3 84.5,70.0 74.5,59.3 63.5,45.2 58.0,31.0 55.5,24.0" fill="#fff"/>
<path d="M60.0 31.0 L66.5 45.5 L77.5 59.5 L87.5 70.5 L96.5 78.5 L121.0 100.5 L148.0 127.0 L193.0 171.5" fill="none" stroke="#000" stroke-width="0.90" stroke-linecap="round" stroke-linejoin="round"/>
<path d="M62.0 30.0 L70.0 42.0" fill="none" stroke="#000" stroke-width="0.80" stroke-linecap="round" stroke-linejoin="round"/>
<path d="M63.50 39.50 C64.08 39.17 65.75 37.42 67.00 37.50 C68.25 37.58 69.83 39.75 71.00 40.00 C72.17 40.25 73.17 38.92 74.00 39.00 C74.83 39.08 75.67 40.25 76.00 40.50 " fill="none" stroke="#000" stroke-width="1.00" stroke-linecap="round" stroke-linejoin="round"/>
<path d="M196.0 172.5 L200.0 177.5" fill="none" stroke="#000" stroke-width="2.20" stroke-linecap="round" stroke-linejoin="round"/>
<polygon points="56.5,23.2 56.8,19.2 60.4,18.8 80.2,34.2 80.2,37.0 75.8,38.6" fill="#000" stroke="#000" stroke-width="2.00" stroke-linejoin="round"/>
<polygon points="56.5,23.2 56.8,19.2 60.4,18.8 80.2,34.2 80.2,37.0 75.8,38.6" fill="#fff"/>
<path d="M58.5 22.0 L76.5 36.6" fill="none" stroke="#000" stroke-width="0.80" stroke-linecap="round" stroke-linejoin="round"/>
<path d="M77.5 33.2 L78.6 35.0" fill="none" stroke="#000" stroke-width="1.30" stroke-linecap="round" stroke-linejoin="round"/>
<polygon points="76.7,37.6 81.0,34.5 89.0,41.0 86.4,45.6" fill="#000"/>
<path d="M82.5 44.2 L85.5 41.2" fill="none" stroke="#fff" stroke-width="0.70" stroke-linecap="round" stroke-linejoin="round"/>
<polygon points="71.0,21.9 105.0,39.3 120.0,49.5 165.0,78.2 204.0,103.0 206.0,107.5 203.5,112.5 165.0,88.3 120.0,59.9 105.0,50.6 88.0,40.2 84.0,36.5" fill="#000" stroke="#000" stroke-width="1.80" stroke-linejoin="round"/>
<polygon points="71.0,21.9 105.0,39.3 120.0,49.5 165.0,78.2 204.0,103.0 206.0,107.5 203.5,112.5 165.0,88.3 120.0,59.9 105.0,50.6 88.0,40.2 84.0,36.5" fill="#fff"/>
<path d="M86.4 37.0 L105.0 46.9 L120.0 56.0 L165.0 84.0 L188.0 98.4" fill="none" stroke="#000" stroke-width="1.10" stroke-linecap="round" stroke-linejoin="round"/>
<path d="M150.0 71.5 L186.0 94.2" fill="none" stroke="#000" stroke-width="0.90" stroke-linecap="round" stroke-linejoin="round"/>
<circle cx="153.2" cy="83.8" r="1.60" fill="#fff" stroke="#000" stroke-width="0.90"/>
<path d="M200.00 100.50 C200.50 99.88 201.75 97.35 203.00 96.80 C204.25 96.25 206.37 96.47 207.50 97.20 C208.63 97.93 209.68 99.83 209.80 101.20 C209.92 102.57 208.47 104.70 208.20 105.40 " fill="none" stroke="#fff" stroke-width="1.60" stroke-linecap="round" stroke-linejoin="round"/>
<path d="M201.50 102.00 C201.92 101.58 203.08 99.75 204.00 99.50 C204.92 99.25 206.50 100.33 207.00 100.50 " fill="none" stroke="#fff" stroke-width="0.90" stroke-linecap="round" stroke-linejoin="round"/>
<polygon points="204.5,107.5 259.0,138.8 262.0,141.0 268.3,153.2 256.5,146.5 254.0,144.2 202.8,112.2" fill="#000" stroke="#000" stroke-width="2.20" stroke-linejoin="round"/>
<polygon points="204.5,107.5 259.0,138.8 261.5,141.2 265.0,148.5 257.0,146.0 254.0,144.2 202.8,112.2" fill="#fff"/>
<path d="M208.0 112.0 L255.0 140.6" fill="none" stroke="#000" stroke-width="0.90" stroke-linecap="round" stroke-linejoin="round"/>
<polygon points="263.2,146.5 268.8,153.6 260.5,149.0" fill="#000"/>
<ellipse cx="337.0" cy="161.5" rx="24.50" ry="12.50" fill="#000" stroke="#000" stroke-width="1.00"/>
<ellipse cx="337.0" cy="161.5" rx="24.50" ry="12.50" fill="#fff"/>
<path d="M354.0 164.7 C355.3 165.2 353.0 165.9 352.3 166.5 C351.6 167.0 351.2 168.4 349.8 168.0 C348.4 167.7 344.7 165.1 343.9 164.3 C343.1 163.6 343.2 163.4 344.9 163.5 C346.6 163.5 352.8 164.2 354.0 164.7 Z" fill="#000"/>
<path d="M344.7 169.9 C344.8 170.7 342.2 170.4 340.9 170.5 C339.6 170.7 337.5 171.5 337.0 170.8 C336.5 170.0 337.5 166.8 338.0 166.0 C338.4 165.1 338.7 165.1 339.8 165.8 C341.0 166.4 344.5 169.1 344.7 169.9 Z" fill="#000"/>
<path d="M330.8 170.2 C329.8 170.8 328.4 169.7 327.3 169.3 C326.2 168.9 323.5 168.8 324.2 168.0 C324.9 167.3 330.0 165.4 331.5 165.0 C333.0 164.6 333.2 164.7 333.1 165.5 C333.0 166.4 331.8 169.6 330.8 170.2 Z" fill="#000"/>
<path d="M320.6 165.4 C319.0 165.5 319.6 164.2 319.3 163.5 C319.0 162.9 317.4 161.8 318.9 161.5 C320.4 161.2 326.6 161.7 328.2 162.0 C329.9 162.2 329.9 162.4 328.6 162.9 C327.4 163.5 322.1 165.3 320.6 165.4 Z" fill="#000"/>
<path d="M320.0 158.3 C318.7 157.8 321.0 157.1 321.7 156.5 C322.4 156.0 322.8 154.6 324.2 155.0 C325.6 155.3 329.3 157.9 330.1 158.7 C330.9 159.4 330.8 159.6 329.1 159.5 C327.4 159.5 321.2 158.8 320.0 158.3 Z" fill="#000"/>
<path d="M329.3 153.1 C329.2 152.3 331.8 152.6 333.1 152.5 C334.4 152.3 336.5 151.5 337.0 152.2 C337.5 153.0 336.5 156.2 336.0 157.0 C335.6 157.9 335.3 157.9 334.2 157.2 C333.0 156.6 329.5 153.9 329.3 153.1 Z" fill="#000"/>
<path d="M343.2 152.8 C344.2 152.2 345.6 153.3 346.7 153.7 C347.8 154.1 350.5 154.2 349.8 155.0 C349.1 155.7 344.0 157.6 342.5 158.0 C341.0 158.4 340.8 158.3 340.9 157.5 C341.0 156.6 342.2 153.4 343.2 152.8 Z" fill="#000"/>
<path d="M353.4 157.6 C355.0 157.5 354.4 158.8 354.7 159.5 C355.0 160.1 356.6 161.2 355.1 161.5 C353.6 161.8 347.4 161.3 345.8 161.0 C344.1 160.8 344.1 160.6 345.4 160.1 C346.6 159.5 351.9 157.7 353.4 157.6 Z" fill="#000"/>
<ellipse cx="374.5" cy="164.5" rx="15.00" ry="8.00" fill="#000" stroke="#000" stroke-width="1.00"/>
<ellipse cx="374.5" cy="164.5" rx="15.00" ry="8.00" fill="#fff"/>
<path d="M385.2 166.0 C386.0 166.3 384.6 167.1 384.0 167.5 C383.5 168.0 383.0 169.0 382.2 168.8 C381.3 168.6 379.2 166.8 378.7 166.3 C378.3 165.8 378.4 165.7 379.5 165.6 C380.6 165.6 384.5 165.7 385.2 166.0 Z" fill="#000"/>
<path d="M378.9 169.9 C378.9 170.4 377.0 170.3 376.0 170.4 C375.0 170.4 373.2 170.9 373.0 170.4 C372.7 169.9 374.0 167.9 374.5 167.4 C375.0 166.9 375.2 166.8 376.0 167.3 C376.7 167.7 378.9 169.4 378.9 169.9 Z" fill="#000"/>
<path d="M369.3 169.7 C368.6 170.1 367.6 169.2 366.8 168.8 C366.1 168.4 364.4 167.9 365.0 167.5 C365.5 167.1 369.2 166.4 370.3 166.3 C371.3 166.2 371.5 166.3 371.3 166.8 C371.2 167.4 370.1 169.4 369.3 169.7 Z" fill="#000"/>
<path d="M363.6 165.6 C362.6 165.5 363.4 164.5 363.4 164.0 C363.5 163.5 363.2 162.4 364.1 162.4 C365.1 162.4 368.4 163.5 369.2 163.9 C370.1 164.2 370.0 164.4 369.1 164.6 C368.2 164.9 364.5 165.7 363.6 165.6 Z" fill="#000"/>
<path d="M366.1 160.6 C365.7 160.2 367.5 159.9 368.4 159.6 C369.2 159.3 370.5 158.5 371.1 158.9 C371.7 159.3 372.2 161.3 372.2 161.9 C372.1 162.5 371.9 162.6 370.9 162.3 C369.9 162.1 366.5 161.1 366.1 160.6 Z" fill="#000"/>
<path d="M374.9 158.6 C375.3 158.1 376.9 158.7 377.9 158.9 C378.9 159.0 380.8 159.1 380.6 159.6 C380.5 160.1 377.7 161.6 376.8 161.9 C376.0 162.3 375.8 162.2 375.4 161.7 C375.1 161.1 374.5 159.1 374.9 158.6 Z" fill="#000"/>
<path d="M383.4 161.0 C384.4 160.9 384.5 161.9 384.9 162.4 C385.2 162.9 386.4 163.7 385.6 164.0 C384.7 164.2 380.8 164.0 379.8 163.9 C378.7 163.7 378.6 163.6 379.2 163.1 C379.9 162.6 382.5 161.1 383.4 161.0 Z" fill="#000"/>
<path d="M316.00 167.00 C316.67 167.75 318.33 170.58 320.00 171.50 C321.67 172.42 325.00 172.33 326.00 172.50 " fill="none" stroke="#fff" stroke-width="1.60" stroke-linecap="round" stroke-linejoin="round"/>
<polygon points="304.0,134.9 400.0,149.0 434.2,153.8 430.7,156.8 433.3,159.2 429.2,162.5 400.0,159.8 304.0,145.2" fill="#000" stroke="#000" stroke-width="1.60" stroke-linejoin="round"/>
<polygon points="304.0,134.9 400.0,149.0 434.2,153.8 430.7,156.8 433.3,159.2 429.2,162.5 400.0,159.8 304.0,145.2" fill="#fff"/>
<path d="M304.3 138.8 L432.2 155.9" fill="none" stroke="#000" stroke-width="0.90" stroke-linecap="round" stroke-linejoin="round"/>
<path d="M304.3 141.9 L430.7 158.9" fill="none" stroke="#000" stroke-width="0.90" stroke-linecap="round" stroke-linejoin="round"/>
<polygon points="434.2,153.5 497.5,166.4 429.4,164.3 433.3,159.2 430.7,156.8" fill="#fff"/>
<path d="M304.0 134.9 L304.0 145.2" fill="none" stroke="#000" stroke-width="0.80" stroke-linecap="round" stroke-linejoin="round"/>
<path d="M498.4 160.0 C498.4 157.5 498.9 154.9 500.3 153.4 C501.7 151.9 502.3 151.3 506.9 151.0 C511.4 150.7 520.9 151.6 527.5 151.8 C534.1 151.9 542.0 152.3 546.3 152.1 C550.5 152.0 550.3 150.9 552.8 151.0 C555.3 151.1 556.1 152.2 561.3 152.5 C566.4 152.8 575.3 152.7 583.8 152.9 C592.2 153.1 605.6 153.2 611.9 153.6 C618.1 154.0 619.1 154.1 621.3 155.3 C623.4 156.5 624.3 158.9 624.6 160.9 C625.0 163.0 624.4 165.6 623.5 167.5 C622.6 169.4 622.9 170.8 619.4 172.2 C615.9 173.6 608.4 174.8 602.5 175.9 C596.6 177.1 590.0 178.4 583.8 179.1 C577.5 179.8 570.2 180.0 565.0 180.3 C559.8 180.5 557.5 180.7 552.8 180.6 C548.1 180.6 542.3 180.3 536.9 179.9 C531.4 179.4 525.0 178.8 520.0 177.8 C515.0 176.8 510.2 175.6 506.9 174.1 C503.6 172.5 501.7 170.8 500.3 168.4 C498.9 166.1 498.4 162.5 498.4 160.0 Z" fill="#fff"/>
<path d="M545.0 155.3 C545.0 155.9 535.8 157.2 531.2 158.0 C526.6 158.9 521.4 160.0 517.4 160.4 C513.5 160.8 509.4 160.7 507.5 160.3 C505.7 159.9 506.5 158.8 506.4 158.0 C506.4 157.2 505.5 156.2 507.2 155.5 C509.0 154.9 513.0 154.2 517.0 154.1 C521.0 153.9 526.3 154.3 531.0 154.5 C535.6 154.7 544.9 154.7 545.0 155.3 Z" fill="#000"/>
<path d="M546.1 157.1 C546.3 157.9 538.5 161.5 534.6 163.6 C530.8 165.7 526.4 168.4 523.0 169.8 C519.7 171.1 516.2 171.7 514.4 171.5 C512.6 171.4 512.4 169.9 512.0 168.8 C511.7 167.7 510.9 166.4 512.2 165.2 C513.6 163.9 516.6 162.3 520.1 161.3 C523.6 160.2 528.7 159.6 533.0 159.0 C537.3 158.3 545.8 156.3 546.1 157.1 Z" fill="#000"/>
<path d="M548.8 158.7 C549.6 159.5 545.8 164.8 544.2 167.7 C542.7 170.6 540.9 174.3 539.3 176.3 C537.6 178.2 535.7 179.1 534.2 179.3 C532.6 179.6 531.0 178.6 530.0 177.6 C529.0 176.6 528.0 174.9 528.2 173.4 C528.4 171.8 529.4 170.0 531.3 168.3 C533.2 166.6 537.0 164.9 539.9 163.3 C542.8 161.7 548.1 158.0 548.8 158.7 Z" fill="#000"/>
<path d="M552.5 159.6 C553.6 159.7 554.5 164.8 555.3 167.3 C556.2 169.9 557.5 173.1 557.6 175.0 C557.7 176.9 556.9 178.0 555.8 178.8 C554.7 179.7 552.6 180.5 551.0 180.4 C549.5 180.3 547.5 179.2 546.5 178.2 C545.6 177.2 544.9 176.0 545.3 174.1 C545.6 172.2 547.4 169.3 548.6 166.9 C549.8 164.4 551.3 159.5 552.5 159.6 Z" fill="#000"/>
<path d="M556.0 159.4 C556.9 158.7 561.2 162.8 563.6 164.6 C566.1 166.4 569.3 168.4 570.7 170.2 C572.2 171.9 572.5 173.6 572.4 175.1 C572.2 176.6 571.0 178.2 569.8 179.0 C568.6 179.9 566.7 180.5 565.2 180.1 C563.8 179.7 562.3 178.8 561.2 176.8 C560.1 174.9 559.2 171.2 558.4 168.3 C557.5 165.4 555.2 160.0 556.0 159.4 Z" fill="#000"/>
<path d="M558.8 157.8 C559.3 157.0 568.0 160.3 572.5 161.6 C577.0 163.0 582.4 164.3 585.9 165.9 C589.4 167.5 592.4 169.7 593.6 171.3 C594.8 172.9 593.8 174.2 593.2 175.4 C592.7 176.5 592.2 178.1 590.2 178.0 C588.2 178.0 584.7 176.9 581.3 175.0 C577.9 173.0 573.7 169.5 570.0 166.6 C566.2 163.8 558.4 158.6 558.8 157.8 Z" fill="#000"/>
<path d="M563.9 156.8 C564.0 156.1 577.3 157.8 584.0 158.3 C590.7 158.9 598.4 159.3 604.0 160.2 C609.7 161.2 615.6 162.7 618.0 163.8 C620.4 165.0 618.8 166.0 618.6 167.0 C618.5 167.9 619.6 169.5 616.9 169.6 C614.3 169.8 608.2 169.2 602.6 168.0 C597.0 166.8 589.6 164.4 583.2 162.6 C576.7 160.7 563.7 157.5 563.9 156.8 Z" fill="#000"/>
<path d="M564.1 155.2 C564.1 154.8 577.5 154.8 584.2 154.7 C590.9 154.5 598.5 154.2 604.4 154.4 C610.2 154.5 616.6 155.1 619.2 155.7 C621.8 156.2 619.9 157.0 619.9 157.7 C619.9 158.3 621.6 159.3 619.0 159.6 C616.4 159.9 610.0 160.0 604.1 159.6 C598.3 159.3 590.8 158.3 584.1 157.6 C577.4 156.8 564.0 155.7 564.1 155.2 Z" fill="#000"/>
<path d="M500.3 154.0 C501.3 153.1 504.7 152.3 505.9 152.5 C507.2 152.7 508.3 154.4 507.8 155.3 C507.3 156.3 504.5 157.7 503.1 158.1 C501.8 158.5 500.2 158.4 499.8 157.8 C499.3 157.1 499.3 154.9 500.3 154.0 Z" fill="#000"/>
<path d="M501.6 164.7 C502.4 164.1 506.6 165.3 507.8 166.6 C509.0 167.8 509.5 171.6 508.8 172.2 C508.0 172.8 504.3 171.6 503.1 170.3 C501.9 169.1 500.8 165.3 501.6 164.7 Z" fill="#000"/>
<path d="M512.5 175.0 C513.8 174.2 520.0 172.8 521.9 173.5 C523.8 174.2 525.0 178.3 523.8 179.1 C522.5 179.9 516.3 179.1 514.4 178.4 C512.5 177.7 511.3 175.8 512.5 175.0 Z" fill="#000"/>
<path d="M612.8 155.3 C613.4 154.7 619.6 155.3 621.3 156.3 C622.9 157.2 623.4 160.3 622.8 160.9 C622.1 161.6 619.2 160.9 617.5 160.0 C615.9 159.1 612.2 155.9 612.8 155.3 Z" fill="#000"/>
<path d="M600.6 170.3 C602.2 169.7 609.7 170.5 611.9 171.3 C614.1 172.0 615.3 174.0 613.8 174.6 C612.2 175.3 604.7 175.7 602.5 175.0 C600.3 174.3 599.1 170.9 600.6 170.3 Z" fill="#000"/>
<path d="M577.2 175.9 C579.1 175.5 586.4 176.2 587.5 176.9 C588.6 177.6 585.6 179.8 583.8 180.3 C581.9 180.7 577.3 180.2 576.3 179.5 C575.2 178.8 575.3 176.4 577.2 175.9 Z" fill="#000"/>
<ellipse cx="552.8" cy="155.1" rx="7.13" ry="3.19" fill="#fff" stroke="#000" stroke-width="0.80"/>
<ellipse cx="553.4" cy="155.1" rx="4.50" ry="1.50" fill="#000"/>
<path d="M547.5 152.5 L531.6 145.6" fill="none" stroke="#fff" stroke-width="0.90" stroke-linecap="round" stroke-linejoin="round"/>
<path d="M551.2 152.5 L546.3 146.9" fill="none" stroke="#fff" stroke-width="0.90" stroke-linecap="round" stroke-linejoin="round"/>
<path d="M552.2 152.5 L550.4 148.0" fill="none" stroke="#fff" stroke-width="0.90" stroke-linecap="round" stroke-linejoin="round"/>
<path d="M553.6 152.5 L556.0 148.8" fill="none" stroke="#fff" stroke-width="0.90" stroke-linecap="round" stroke-linejoin="round"/>
<path d="M556.4 152.5 L567.3 147.6" fill="none" stroke="#fff" stroke-width="0.90" stroke-linecap="round" stroke-linejoin="round"/>
<path d="M560.32 152.13 C563.60 151.81 572.97 150.72 580.01 150.25 C587.04 149.78 598.76 149.47 602.51 149.31 " fill="none" stroke="#fff" stroke-width="0.90" stroke-linecap="round" stroke-linejoin="round"/>
<path d="M546.25 152.13 C545.00 151.41 541.19 148.91 538.75 147.81 C536.32 146.72 532.82 145.94 531.63 145.56 " fill="none" stroke="#fff" stroke-width="0.90" stroke-linecap="round" stroke-linejoin="round"/>
<g fill="#fff" stroke="#fff" stroke-width="2.60" stroke-linejoin="miter" font-family="Liberation Serif" font-weight="normal" font-size="100">
<text transform="translate(310.94 82.04) scale(0.9895 0.8557)" x="0" y="0" vector-effect="non-scaling-stroke">C</text>
<text transform="translate(374.57 81.62) scale(0.9094 0.7798)" x="0" y="0" vector-effect="non-scaling-stroke">O</text>
<text transform="translate(445.22 81.40) scale(0.7846 0.7527)" x="0" y="0" vector-effect="non-scaling-stroke">M</text>
<text transform="translate(523.11 81.40) scale(0.7556 0.7481)" x="0" y="0" vector-effect="non-scaling-stroke">P</text>
<text transform="translate(559.58 81.40) scale(0.8156 0.8167)" x="0" y="0" vector-effect="non-scaling-stroke">A</text>
<text transform="translate(621.91 81.06) scale(0.7447 0.7426)" x="0" y="0" vector-effect="non-scaling-stroke">S</text>
<text transform="translate(670.02 81.74) scale(0.7588 0.7619)" x="0" y="0" vector-effect="non-scaling-stroke">S</text>
<text transform="translate(335.67 141.69) scale(0.6655 0.7021)" x="0" y="0" vector-effect="non-scaling-stroke">B</text>
<text transform="translate(385.70 143.10) scale(0.6552 0.7237)" x="0" y="0" vector-effect="non-scaling-stroke">L</text>
<text transform="translate(426.35 143.83) scale(0.8422 0.7693)" x="0" y="0" vector-effect="non-scaling-stroke">O</text>
<text transform="translate(493.14 143.54) scale(0.7705 0.7560)" x="0" y="0" vector-effect="non-scaling-stroke">S</text>
<text transform="translate(539.50 142.39) scale(0.7307 0.7143)" x="0" y="0" vector-effect="non-scaling-stroke">S</text>
<text transform="translate(586.51 144.82) scale(0.8766 0.7798)" x="0" y="0" vector-effect="non-scaling-stroke">O</text>
<text transform="translate(654.79 143.80) scale(0.7605 0.7298)" x="0" y="0" vector-effect="non-scaling-stroke">M</text>
<text transform="translate(729.63 143.86) scale(0.6815 0.7351)" x="0" y="0" vector-effect="non-scaling-stroke">S</text>
</g>
</g>

<!-- TITLE -->
<text x="305" y="245.8" font-size="52" font-style="italic" textLength="196" lengthAdjust="spacingAndGlyphs" stroke="#000" stroke-width="0.55">Pond Lily</text>
<!-- FIGURE 1 -->
<g fill="none" stroke="#000" stroke-width="2.15" stroke-linecap="round">
<path d="M304.38 609.96 A183.90 183.90 0 1 0 104.77 610.96" stroke-width="1.95"/>
<path d="M286.31 601.54 A167.30 167.30 0 1 0 122.13 602.01" stroke-width="1.95"/>
<path d="M202.80 273.00 A179.68 179.68 0 0 0 166.90 371.00"/>
<path d="M202.80 273.00 A174.37 174.37 0 0 1 240.00 371.00"/>
<path d="M127.50 331.00 A147.99 147.99 0 0 1 191.60 457.60"/>
<path d="M279.00 330.00 A150.13 150.13 0 0 0 216.30 457.60"/>
<path d="M87.00 373.50 A120.48 120.48 0 0 1 127.50 331.00"/>
<path d="M321.10 372.70 A228.34 228.34 0 0 0 279.00 330.00"/>
<path d="M60.50 371.30 A151.88 151.88 0 0 1 191.60 457.60"/>
<path d="M60.50 371.30 A160.61 160.61 0 0 0 203.80 457.20"/>
<path d="M344.20 370.70 A151.41 151.41 0 0 0 216.30 457.60"/>
<path d="M344.20 370.70 A150.82 150.82 0 0 1 203.80 457.20"/>
<path d="M202.80 305.00 A142.10 142.10 0 0 0 216.30 457.60"/>
<path d="M202.80 305.00 A141.51 141.51 0 0 1 191.60 457.60"/>
<path d="M203.6 457 L203.6 480"/>
<path d="M204.47 458.93 A168.00 168.00 0 0 1 104.56 609.60"/>
<path d="M203.13 458.93 A168.00 168.00 0 0 0 305.16 610.52"/>
<path d="M197.51 504.75 A167.50 167.50 0 0 0 344.59 669.25"/>
<path d="M212.21 511.01 A153.00 153.00 0 0 0 373.01 655.79"/>
<path d="M191.6 243.9 L215.1 226.4"/>
<path d="M192.3 228.4 L214.5 244.4"/>
<path d="M187.2 305.2 L216.3 305.2"/>
</g>
<g fill="none" stroke="#000" stroke-width="1.9" stroke-dasharray="6 3.5">
<path d="M97 313.6 L127.5 331 L150 318"/>
<path d="M264 321.6 L279 330 L320 309.5"/>
<path d="M42.9 371.6 L60.5 371.3"/>
<path d="M50.8 335.9 L61.4 370.2"/>
<path d="M344.2 370.9 L374 371.1"/>
<path d="M345.2 362.9 L348.8 354.7"/>
</g>
<g fill="none" stroke="#000" stroke-width="1.15" stroke-dasharray="4.2 2.2">
<path d="M104.77 610.96 A183.90 183.90 0 0 0 304.38 609.96" stroke-width="2" stroke-dasharray="4.6 2.9"/>
<path d="M122.13 602.01 A167.30 167.30 0 0 0 286.31 601.54" stroke-width="2" stroke-dasharray="4.6 2.9"/>
<path d="M104.56 609.60 A168.00 168.00 0 0 1 50.84 623.39" stroke-width="2" stroke-dasharray="4.6 2.9"/>
<path d="M305.16 610.52 A168.00 168.00 0 0 0 335.86 620.26" stroke-width="2" stroke-dasharray="4.6 2.9"/>
<path d="M11.7 456.4 L397.8 456.2" stroke-width="1.8" stroke-dasharray="7.5 3"/>
<path d="M203.2 307 L203.7 436" stroke-width="1.8" stroke-dasharray="7.5 3"/>
<path d="M202.6 237.5 L202.8 260.5"/>
<path d="M202.8 275 L203 304"/>
<path d="M192.8 287.5 L213.2 287.5"/>
<path d="M192.8 287.5 L202.9 304"/>
<path d="M213.2 287.5 L202.9 304"/>
</g>
<g fill="none" stroke="#000" stroke-width="1.8" stroke-linecap="butt">
<path d="M178.9 251 L187.6 258.2 M190.7 261.2 L195.3 265.4"/>
<path d="M232.7 246.9 L223.4 254 M221.4 255.6 L215.2 260.7 M212.1 264.3 L206.2 270.3"/>
<path d="M188.2 280.5 L192.2 286.5"/>
<path d="M217.8 279 L213.8 286.5"/>
<path d="M180.8 473.3 L171.9 483.3 M187.2 466.3 L184.3 469.5"/>
<path d="M214.2 463.6 L210.6 472.6"/>
<path d="M224.6 470.2 L227.2 473.4"/>
<path d="M196.5 471.7 L198 474.4"/>
</g>

<!-- FIGURE 2 -->
<g fill="none" stroke="#000" stroke-width="2.35" stroke-linecap="round" stroke-linejoin="miter">
<path d="M682.58 597.19 A175.50 175.50 0 1 0 492.96 598.18" stroke-width="2.0"/>
<path d="M592.20 288.78 A161.30 161.30 0 0 1 667.71 589.65" stroke-width="2.0"/>
<path d="M576.20 289.06 A161.30 161.30 0 0 0 506.59 589.83" stroke-width="2.0"/>
<path d="M584.20 278.30 A155.87 155.87 0 0 0 550.60 368.50"/>
<path d="M584.20 278.30 A178.68 178.68 0 0 1 621.70 368.90"/>
<path d="M473.10 371.90 A121.70 121.70 0 0 1 512.80 331.60"/>
<path d="M512.80 331.60 A133.36 133.36 0 0 1 573.50 451.70"/>
<path d="M697.40 373.30 A129.70 129.70 0 0 0 656.90 332.20"/>
<path d="M656.90 332.20 A139.84 139.84 0 0 0 598.80 451.00"/>
<path d="M453.50 371.30 A131.70 131.70 0 0 1 570.60 451.10"/>
<path d="M453.50 371.30 A145.21 145.21 0 0 0 586.50 452.50"/>
<path d="M718.60 369.80 A141.71 141.71 0 0 0 601.70 450.50"/>
<path d="M718.60 369.80 A142.84 142.84 0 0 1 586.50 452.50"/>
<path d="M584.90 305.50 A145.62 145.62 0 0 0 597.00 451.00"/>
<path d="M584.90 305.50 A146.25 146.25 0 0 1 576.40 451.70"/>
<path d="M586.3 452.5 L586.3 475"/>
<path d="M586.98 452.82 A161.30 161.30 0 0 1 491.02 597.48"/>
<path d="M587.02 452.82 A161.30 161.30 0 0 0 683.55 597.73"/>
<path d="M579.00 498.00 A176.00 176.00 0 0 0 794.59 669.49"/>
<path d="M593.06 493.76 A162.00 162.00 0 0 0 796.93 654.48"/>
</g>

<!-- LABELS -->
<g font-family="Liberation Sans" class="sans" font-weight="bold" text-anchor="middle" fill="#000">
<text x="212.3" y="237.9" font-size="10.5">n</text>
<text x="195.2" y="303.6" font-size="11.5">d</text>
<text x="127.7" y="327.9" font-size="11.5">i</text>
<text x="279.2" y="327.5" font-size="11.5">j</text>
<text x="62.8" y="383.8" font-size="11.5">e</text>
<text x="82.0" y="371.2" font-size="9.5">K</text>
<text x="322.9" y="371.0" font-size="11.0">l</text>
<text x="344.8" y="384.6" font-size="11.5">f</text>
<text x="161.6" y="379.4" font-size="9.5">P</text>
<text x="234.8" y="373.3" font-size="9.5">Q</text>
<text x="204.1" y="453.2" font-size="11.0">a</text>
<text x="191.6" y="467.8" font-size="11.0">g</text>
<text x="226.2" y="468.0" font-size="11.0">h</text>
<text x="44.8" y="454.9" font-size="11.5">b</text>
<text x="366.3" y="454.4" font-size="11.5">c</text>
<text x="62.6" y="528.2" font-size="9.5">R</text>
<text x="372.4" y="507.4" font-size="10.5">z</text>
<text x="348.1" y="529.4" font-size="10.5">s</text>
<text x="104.2" y="618.9" font-size="10.5">x</text>
<text x="312.2" y="624.5" font-size="9.5">Y</text>
<text x="306.7" y="667.3" font-size="10.5">m</text>
</g>
<circle cx="202.9" cy="265.5" r="2.7" fill="none" stroke="#000" stroke-width="1.5"/>
<g fill="#000"><circle cx="51.9" cy="524.2" r="1.6"/><circle cx="365.1" cy="503.0" r="1.6"/><circle cx="354.5" cy="526.7" r="1.6"/><circle cx="371.2" cy="456.3" r="1.6"/></g>
<g fill="none" stroke="#000" stroke-width="1.75" stroke-linecap="round" stroke-linejoin="round">
<path d="M153.5 643.5 L153.3 650.0 L153.0 656.5"/>
<path d="M148.50 644.20 C148.92 644.07 149.58 643.53 151.00 643.40 C152.42 643.27 155.30 643.53 157.00 643.40 C158.70 643.27 160.50 642.73 161.20 642.60 "/>
<path d="M153.2 649.6 L159.0 649.1"/>
<path d="M151.0 656.6 L155.5 656.5"/>
<path d="M163.1 651.0 L163.1 656.5"/>
<path d="M161.5 656.6 L164.7 656.5"/>
<path d="M172.20 652.00 C171.92 651.75 171.20 650.70 170.50 650.50 C169.80 650.30 168.63 650.38 168.00 650.80 C167.37 651.22 166.73 652.22 166.70 653.00 C166.67 653.78 167.22 655.03 167.80 655.50 C168.38 655.97 169.50 656.02 170.20 655.80 C170.90 655.58 171.67 654.83 172.00 654.20 C172.33 653.57 172.17 652.37 172.20 652.00 "/>
<path d="M172.20 651.80 C172.42 651.50 173.00 650.35 173.50 650.00 C174.00 649.65 174.92 649.75 175.20 649.70 "/>
<path d="M170.80 655.80 C170.87 656.25 171.50 657.72 171.20 658.50 C170.90 659.28 169.73 659.88 169.00 660.50 C168.27 661.12 167.23 661.53 166.80 662.20 C166.37 662.87 166.17 663.95 166.40 664.50 C166.63 665.05 167.67 665.55 168.20 665.50 C168.73 665.45 169.37 664.42 169.60 664.20 "/>
<path d="M178.00 651.00 C178.03 651.58 177.87 653.60 178.20 654.50 C178.53 655.40 179.23 656.15 180.00 656.40 C180.77 656.65 182.08 656.37 182.80 656.00 C183.52 655.63 184.02 655.03 184.30 654.20 C184.58 653.37 184.47 651.53 184.50 651.00 "/>
<path d="M184.5 651.0 L184.8 656.5"/>
<path d="M189.0 651.0 L189.1 656.5"/>
<path d="M189.10 653.50 C189.38 653.18 190.12 652.02 190.80 651.60 C191.48 651.18 192.47 650.98 193.20 651.00 C193.93 651.02 194.87 651.58 195.20 651.70 "/>
<path d="M197.8 654.0 L204.6 653.5"/>
<path d="M204.60 653.50 C204.42 653.17 204.10 651.95 203.50 651.50 C202.90 651.05 201.83 650.68 201.00 650.80 C200.17 650.92 199.03 651.58 198.50 652.20 C197.97 652.82 197.63 653.78 197.80 654.50 C197.97 655.22 198.72 656.12 199.50 656.50 C200.28 656.88 201.50 656.97 202.50 656.80 C203.50 656.63 205.00 655.72 205.50 655.50 "/>
<path d="M217.6 645.0 L217.5 659.0"/>
<path d="M215.0 647.6 L217.6 645.0"/>
<path d="M214.5 659.1 L220.6 659.0"/>
<circle cx="163.1" cy="648.5" r="1.08" fill="#000" stroke="none"/>
</g>
<g fill="none" stroke="#000" stroke-width="1.50" stroke-linecap="round" stroke-linejoin="round">
<path d="M525.6 603.3 L525.4 609.3 L525.2 615.2"/>
<path d="M521.02 603.94 C521.40 603.81 522.01 603.33 523.31 603.20 C524.62 603.08 527.27 603.33 528.83 603.20 C530.39 603.08 532.04 602.59 532.69 602.47 "/>
<path d="M525.3 608.9 L530.7 608.4"/>
<path d="M523.3 615.3 L527.4 615.2"/>
<path d="M534.4 610.2 L534.4 615.2"/>
<path d="M533.0 615.3 L535.9 615.2"/>
<path d="M542.80 611.09 C542.54 610.86 541.88 609.90 541.23 609.71 C540.59 609.53 539.52 609.61 538.94 609.99 C538.35 610.37 537.77 611.29 537.74 612.01 C537.71 612.72 538.22 613.87 538.75 614.30 C539.29 614.73 540.32 614.77 540.96 614.57 C541.60 614.37 542.31 613.69 542.61 613.11 C542.92 612.53 542.77 611.43 542.80 611.09 "/>
<path d="M542.80 610.91 C543.00 610.63 543.53 609.58 543.99 609.25 C544.45 608.93 545.29 609.03 545.55 608.98 "/>
<path d="M541.51 614.57 C541.57 614.99 542.15 616.33 541.88 617.05 C541.60 617.77 540.53 618.32 539.86 618.88 C539.18 619.45 538.23 619.83 537.83 620.44 C537.44 621.05 537.25 622.05 537.47 622.55 C537.68 623.06 538.63 623.51 539.12 623.47 C539.61 623.42 540.19 622.48 540.41 622.28 "/>
<path d="M548.13 610.17 C548.16 610.71 548.00 612.56 548.31 613.38 C548.62 614.21 549.26 614.89 549.96 615.12 C550.67 615.35 551.88 615.09 552.54 614.76 C553.20 614.42 553.66 613.87 553.92 613.11 C554.18 612.34 554.07 610.66 554.10 610.17 "/>
<path d="M554.1 610.2 L554.4 615.2"/>
<path d="M558.2 610.2 L558.3 615.2"/>
<path d="M558.33 612.46 C558.59 612.17 559.26 611.10 559.89 610.72 C560.52 610.34 561.42 610.16 562.10 610.17 C562.77 610.19 563.63 610.71 563.93 610.81 "/>
<path d="M566.3 612.9 L572.6 612.5"/>
<path d="M572.57 612.46 C572.40 612.16 572.11 611.04 571.56 610.63 C571.01 610.22 570.03 609.88 569.26 609.99 C568.50 610.10 567.46 610.71 566.97 611.27 C566.48 611.84 566.17 612.72 566.32 613.38 C566.48 614.04 567.17 614.86 567.89 615.22 C568.61 615.57 569.72 615.64 570.64 615.49 C571.56 615.34 572.94 614.50 573.40 614.30 "/>
<path d="M582.13 608.34 C582.36 607.91 582.82 606.38 583.51 605.77 C584.20 605.16 585.35 604.62 586.27 604.67 C587.18 604.72 588.56 605.28 589.02 606.05 C589.48 606.81 589.56 608.11 589.02 609.25 C588.49 610.40 586.95 611.67 585.81 612.92 C584.66 614.18 582.36 616.24 582.13 616.77 C581.90 617.31 583.51 616.01 584.43 616.13 C585.35 616.25 586.65 617.31 587.64 617.51 C588.64 617.71 589.71 617.71 590.40 617.32 C591.09 616.94 591.55 615.57 591.78 615.22 "/>
<circle cx="534.4" cy="607.9" r="0.93" fill="#000" stroke="none"/>
</g>
<g font-family="Liberation Serif" font-size="10.5" font-weight="bold" fill="#000" text-anchor="middle">
<text transform="translate(653.12 620.86) rotate(39.67)" x="0" y="0">I</text>
<text transform="translate(658.62 625.21) rotate(37.15)" x="0" y="0">r</text>
<text transform="translate(664.54 629.49) rotate(34.53)" x="0" y="0">e</text>
<text transform="translate(671.15 633.80) rotate(31.69)" x="0" y="0">n</text>
<text transform="translate(677.97 637.78) rotate(28.86)" x="0" y="0">e</text>
<text transform="translate(689.46 643.52) rotate(24.25)" x="0" y="0">C</text>
<text transform="translate(698.09 647.11) rotate(20.89)" x="0" y="0">u</text>
<text transform="translate(705.53 649.74) rotate(18.06)" x="0" y="0">r</text>
<text transform="translate(711.96 651.69) rotate(15.64)" x="0" y="0">t</text>
<text transform="translate(717.62 653.16) rotate(13.54)" x="0" y="0">i</text>
<text transform="translate(723.62 654.49) rotate(11.34)" x="0" y="0">s</text>
<text transform="translate(737.47 656.63) rotate(6.30)" x="0" y="0">W</text>
<text transform="translate(747.96 657.44) rotate(2.53)" x="0" y="0">a</text>
<text transform="translate(754.68 657.60) rotate(0.11)" x="0" y="0">l</text>
<text transform="translate(760.24 657.51) rotate(-1.88)" x="0" y="0">l</text>
<text transform="translate(766.96 657.15) rotate(-4.30)" x="0" y="0">a</text>
<text transform="translate(774.52 656.40) rotate(-7.02)" x="0" y="0">c</text>
<text transform="translate(781.74 655.34) rotate(-9.65)" x="0" y="0">e</text>
<text transform="translate(787.91 654.17) rotate(-11.90)" x="0" y="0">.</text>
</g>

</svg>
</body></html>
